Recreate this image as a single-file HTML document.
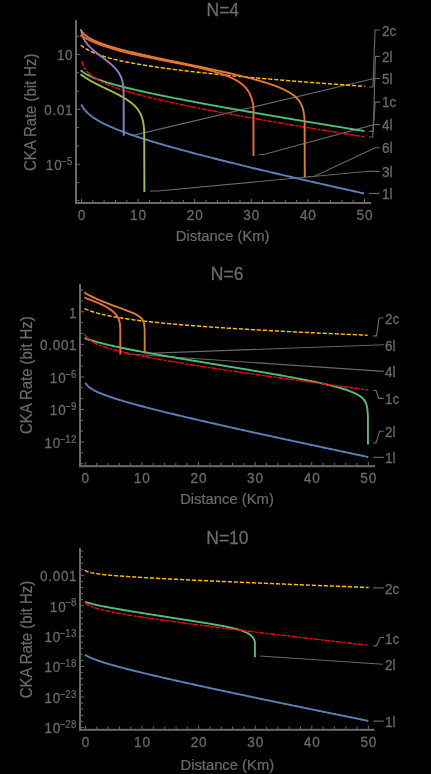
<!DOCTYPE html>
<html><head><meta charset="utf-8"><style>
html,body{margin:0;padding:0;background:#000;overflow:hidden;}
svg{display:block;will-change:transform;}
text{font-family:"Liberation Sans", sans-serif;fill:#6b6b6b;}
</style></head><body>
<svg width="431" height="774" viewBox="0 0 431 774">
<rect width="431" height="774" fill="#000"/>
<rect x="75.00" y="20.20" width="2" height="183.80" fill="#6b6b6b"/>
<rect x="75.00" y="202.00" width="296.00" height="2" fill="#6b6b6b"/>
<rect x="81.00" y="198.80" width="1" height="3.20" fill="#6b6b6b"/>
<rect x="92.32" y="199.80" width="1" height="2.20" fill="#6b6b6b"/>
<rect x="103.64" y="199.80" width="1" height="2.20" fill="#6b6b6b"/>
<rect x="114.96" y="199.80" width="1" height="2.20" fill="#6b6b6b"/>
<rect x="126.28" y="199.80" width="1" height="2.20" fill="#6b6b6b"/>
<rect x="137.60" y="198.80" width="1" height="3.20" fill="#6b6b6b"/>
<rect x="148.92" y="199.80" width="1" height="2.20" fill="#6b6b6b"/>
<rect x="160.24" y="199.80" width="1" height="2.20" fill="#6b6b6b"/>
<rect x="171.56" y="199.80" width="1" height="2.20" fill="#6b6b6b"/>
<rect x="182.88" y="199.80" width="1" height="2.20" fill="#6b6b6b"/>
<rect x="194.20" y="198.80" width="1" height="3.20" fill="#6b6b6b"/>
<rect x="205.52" y="199.80" width="1" height="2.20" fill="#6b6b6b"/>
<rect x="216.84" y="199.80" width="1" height="2.20" fill="#6b6b6b"/>
<rect x="228.16" y="199.80" width="1" height="2.20" fill="#6b6b6b"/>
<rect x="239.48" y="199.80" width="1" height="2.20" fill="#6b6b6b"/>
<rect x="250.80" y="198.80" width="1" height="3.20" fill="#6b6b6b"/>
<rect x="262.12" y="199.80" width="1" height="2.20" fill="#6b6b6b"/>
<rect x="273.44" y="199.80" width="1" height="2.20" fill="#6b6b6b"/>
<rect x="284.76" y="199.80" width="1" height="2.20" fill="#6b6b6b"/>
<rect x="296.08" y="199.80" width="1" height="2.20" fill="#6b6b6b"/>
<rect x="307.40" y="198.80" width="1" height="3.20" fill="#6b6b6b"/>
<rect x="318.72" y="199.80" width="1" height="2.20" fill="#6b6b6b"/>
<rect x="330.04" y="199.80" width="1" height="2.20" fill="#6b6b6b"/>
<rect x="341.36" y="199.80" width="1" height="2.20" fill="#6b6b6b"/>
<rect x="352.68" y="199.80" width="1" height="2.20" fill="#6b6b6b"/>
<rect x="364.00" y="198.80" width="1" height="3.20" fill="#6b6b6b"/>
<rect x="77.00" y="35.72" width="2.20" height="1" fill="#6b6b6b"/>
<rect x="77.00" y="54.00" width="3.20" height="1" fill="#6b6b6b"/>
<rect x="77.00" y="72.28" width="2.20" height="1" fill="#6b6b6b"/>
<rect x="77.00" y="90.56" width="2.20" height="1" fill="#6b6b6b"/>
<rect x="77.00" y="108.84" width="3.20" height="1" fill="#6b6b6b"/>
<rect x="77.00" y="127.12" width="2.20" height="1" fill="#6b6b6b"/>
<rect x="77.00" y="145.40" width="2.20" height="1" fill="#6b6b6b"/>
<rect x="77.00" y="163.68" width="3.20" height="1" fill="#6b6b6b"/>
<rect x="77.00" y="181.96" width="2.20" height="1" fill="#6b6b6b"/>
<rect x="77.00" y="200.24" width="2.20" height="1" fill="#6b6b6b"/>
<text transform="translate(81.95,220.30) scale(1,1.14)" font-size="13.6" text-anchor="middle" stroke="#6b6b6b" stroke-width="0.25" letter-spacing="0.9">0</text>
<text transform="translate(138.55,220.30) scale(1,1.14)" font-size="13.6" text-anchor="middle" stroke="#6b6b6b" stroke-width="0.25" letter-spacing="0.9">10</text>
<text transform="translate(195.15,220.30) scale(1,1.14)" font-size="13.6" text-anchor="middle" stroke="#6b6b6b" stroke-width="0.25" letter-spacing="0.9">20</text>
<text transform="translate(251.75,220.30) scale(1,1.14)" font-size="13.6" text-anchor="middle" stroke="#6b6b6b" stroke-width="0.25" letter-spacing="0.9">30</text>
<text transform="translate(308.35,220.30) scale(1,1.14)" font-size="13.6" text-anchor="middle" stroke="#6b6b6b" stroke-width="0.25" letter-spacing="0.9">40</text>
<text transform="translate(364.95,220.30) scale(1,1.14)" font-size="13.6" text-anchor="middle" stroke="#6b6b6b" stroke-width="0.25" letter-spacing="0.9">50</text>
<text transform="translate(73.30,60.30) scale(1,1.1)" font-size="13.5" text-anchor="end" stroke="#6b6b6b" stroke-width="0.25" letter-spacing="0.7">10</text>
<text transform="translate(73.30,115.14) scale(1,1.1)" font-size="13.5" text-anchor="end" stroke="#6b6b6b" stroke-width="0.25" letter-spacing="0.7">0.01</text>
<text transform="translate(72.60,164.88) scale(1,1.1)" font-size="9.6" text-anchor="end" stroke="#6b6b6b" stroke-width="0.2" letter-spacing="0.3">&#8722;5</text>
<text transform="translate(62.56,169.98) scale(1,1.1)" font-size="13.5" text-anchor="end" stroke="#6b6b6b" stroke-width="0.25" letter-spacing="0.9">10</text>
<text transform="translate(222.70,240.60) scale(1,1.03)" font-size="14.8" text-anchor="middle" stroke="#6b6b6b" stroke-width="0.2">Distance (Km)</text>
<text transform="translate(222.80,16.20) scale(1,1.05)" font-size="17.5" text-anchor="middle" stroke="#6b6b6b" stroke-width="0.25">N=4</text>
<text transform="translate(35.5,112.25) rotate(-90) scale(1,1.05)" font-size="14.9" text-anchor="middle" stroke="#6b6b6b" stroke-width="0.2">CKA Rate (bit Hz)</text>
<path d="M379.90,30.00 L375.00,30.00 L373.00,87.00 L369.00,87.00" fill="none" stroke="#686868" stroke-width="1.15"/>
<path d="M379.90,56.40 L375.40,56.40 L373.20,131.30 L369.00,131.30" fill="none" stroke="#686868" stroke-width="1.15"/>
<path d="M379.90,78.50 L374.00,78.50 L135.30,134.90 L130.10,135.10" fill="none" stroke="#686868" stroke-width="1.15"/>
<path d="M379.90,102.10 L375.20,102.10 L372.60,137.00 L369.00,137.00" fill="none" stroke="#686868" stroke-width="1.15"/>
<path d="M379.90,124.60 L374.00,124.60 L263.80,154.50 L259.10,154.50" fill="none" stroke="#686868" stroke-width="1.15"/>
<path d="M379.70,147.70 L375.20,147.70 L314.10,176.50 L307.90,176.50" fill="none" stroke="#686868" stroke-width="1.15"/>
<path d="M379.70,171.30 L368.70,171.30 L157.70,191.00 L150.00,191.00" fill="none" stroke="#686868" stroke-width="1.15"/>
<path d="M379.70,193.50 L369.10,193.50" fill="none" stroke="#686868" stroke-width="1.15"/>
<text transform="translate(382.00,36.00) scale(1,1.1)" font-size="13.5" text-anchor="start" stroke="#6b6b6b" stroke-width="0.25">2c</text>
<text transform="translate(382.00,61.70) scale(1,1.1)" font-size="13.5" text-anchor="start" stroke="#6b6b6b" stroke-width="0.25">2l</text>
<text transform="translate(382.00,84.00) scale(1,1.1)" font-size="13.5" text-anchor="start" stroke="#6b6b6b" stroke-width="0.25">5l</text>
<text transform="translate(382.00,107.00) scale(1,1.1)" font-size="13.5" text-anchor="start" stroke="#6b6b6b" stroke-width="0.25">1c</text>
<text transform="translate(382.00,129.80) scale(1,1.1)" font-size="13.5" text-anchor="start" stroke="#6b6b6b" stroke-width="0.25">4l</text>
<text transform="translate(382.00,153.10) scale(1,1.1)" font-size="13.5" text-anchor="start" stroke="#6b6b6b" stroke-width="0.25">6l</text>
<text transform="translate(382.00,177.10) scale(1,1.1)" font-size="13.5" text-anchor="start" stroke="#6b6b6b" stroke-width="0.25">3l</text>
<text transform="translate(382.00,198.90) scale(1,1.1)" font-size="13.5" text-anchor="start" stroke="#6b6b6b" stroke-width="0.25">1l</text>
<rect x="79.00" y="284.20" width="2" height="183.00" fill="#6b6b6b"/>
<rect x="79.00" y="465.20" width="296.00" height="2" fill="#6b6b6b"/>
<rect x="84.75" y="462.00" width="1" height="3.20" fill="#6b6b6b"/>
<rect x="96.07" y="463.00" width="1" height="2.20" fill="#6b6b6b"/>
<rect x="107.40" y="463.00" width="1" height="2.20" fill="#6b6b6b"/>
<rect x="118.72" y="463.00" width="1" height="2.20" fill="#6b6b6b"/>
<rect x="130.05" y="463.00" width="1" height="2.20" fill="#6b6b6b"/>
<rect x="141.37" y="462.00" width="1" height="3.20" fill="#6b6b6b"/>
<rect x="152.69" y="463.00" width="1" height="2.20" fill="#6b6b6b"/>
<rect x="164.02" y="463.00" width="1" height="2.20" fill="#6b6b6b"/>
<rect x="175.34" y="463.00" width="1" height="2.20" fill="#6b6b6b"/>
<rect x="186.67" y="463.00" width="1" height="2.20" fill="#6b6b6b"/>
<rect x="197.99" y="462.00" width="1" height="3.20" fill="#6b6b6b"/>
<rect x="209.31" y="463.00" width="1" height="2.20" fill="#6b6b6b"/>
<rect x="220.64" y="463.00" width="1" height="2.20" fill="#6b6b6b"/>
<rect x="231.96" y="463.00" width="1" height="2.20" fill="#6b6b6b"/>
<rect x="243.29" y="463.00" width="1" height="2.20" fill="#6b6b6b"/>
<rect x="254.61" y="462.00" width="1" height="3.20" fill="#6b6b6b"/>
<rect x="265.93" y="463.00" width="1" height="2.20" fill="#6b6b6b"/>
<rect x="277.26" y="463.00" width="1" height="2.20" fill="#6b6b6b"/>
<rect x="288.58" y="463.00" width="1" height="2.20" fill="#6b6b6b"/>
<rect x="299.91" y="463.00" width="1" height="2.20" fill="#6b6b6b"/>
<rect x="311.23" y="462.00" width="1" height="3.20" fill="#6b6b6b"/>
<rect x="322.55" y="463.00" width="1" height="2.20" fill="#6b6b6b"/>
<rect x="333.88" y="463.00" width="1" height="2.20" fill="#6b6b6b"/>
<rect x="345.20" y="463.00" width="1" height="2.20" fill="#6b6b6b"/>
<rect x="356.53" y="463.00" width="1" height="2.20" fill="#6b6b6b"/>
<rect x="367.85" y="462.00" width="1" height="3.20" fill="#6b6b6b"/>
<rect x="81.00" y="289.60" width="2.20" height="1" fill="#6b6b6b"/>
<rect x="81.00" y="300.45" width="2.20" height="1" fill="#6b6b6b"/>
<rect x="81.00" y="311.30" width="3.20" height="1" fill="#6b6b6b"/>
<rect x="81.00" y="322.15" width="2.20" height="1" fill="#6b6b6b"/>
<rect x="81.00" y="333.00" width="2.20" height="1" fill="#6b6b6b"/>
<rect x="81.00" y="343.85" width="3.20" height="1" fill="#6b6b6b"/>
<rect x="81.00" y="354.70" width="2.20" height="1" fill="#6b6b6b"/>
<rect x="81.00" y="365.55" width="2.20" height="1" fill="#6b6b6b"/>
<rect x="81.00" y="376.40" width="3.20" height="1" fill="#6b6b6b"/>
<rect x="81.00" y="387.25" width="2.20" height="1" fill="#6b6b6b"/>
<rect x="81.00" y="398.10" width="2.20" height="1" fill="#6b6b6b"/>
<rect x="81.00" y="408.95" width="3.20" height="1" fill="#6b6b6b"/>
<rect x="81.00" y="419.80" width="2.20" height="1" fill="#6b6b6b"/>
<rect x="81.00" y="430.65" width="2.20" height="1" fill="#6b6b6b"/>
<rect x="81.00" y="441.50" width="3.20" height="1" fill="#6b6b6b"/>
<rect x="81.00" y="452.35" width="2.20" height="1" fill="#6b6b6b"/>
<rect x="81.00" y="463.20" width="2.20" height="1" fill="#6b6b6b"/>
<text transform="translate(85.70,483.20) scale(1,1.14)" font-size="13.6" text-anchor="middle" stroke="#6b6b6b" stroke-width="0.25" letter-spacing="0.9">0</text>
<text transform="translate(142.32,483.20) scale(1,1.14)" font-size="13.6" text-anchor="middle" stroke="#6b6b6b" stroke-width="0.25" letter-spacing="0.9">10</text>
<text transform="translate(198.94,483.20) scale(1,1.14)" font-size="13.6" text-anchor="middle" stroke="#6b6b6b" stroke-width="0.25" letter-spacing="0.9">20</text>
<text transform="translate(255.56,483.20) scale(1,1.14)" font-size="13.6" text-anchor="middle" stroke="#6b6b6b" stroke-width="0.25" letter-spacing="0.9">30</text>
<text transform="translate(312.18,483.20) scale(1,1.14)" font-size="13.6" text-anchor="middle" stroke="#6b6b6b" stroke-width="0.25" letter-spacing="0.9">40</text>
<text transform="translate(368.80,483.20) scale(1,1.14)" font-size="13.6" text-anchor="middle" stroke="#6b6b6b" stroke-width="0.25" letter-spacing="0.9">50</text>
<text transform="translate(77.30,317.60) scale(1,1.1)" font-size="13.5" text-anchor="end" stroke="#6b6b6b" stroke-width="0.25" letter-spacing="0.7">1</text>
<text transform="translate(77.30,350.15) scale(1,1.1)" font-size="13.5" text-anchor="end" stroke="#6b6b6b" stroke-width="0.25" letter-spacing="0.7">0.001</text>
<text transform="translate(76.60,377.60) scale(1,1.1)" font-size="9.6" text-anchor="end" stroke="#6b6b6b" stroke-width="0.2" letter-spacing="0.3">&#8722;6</text>
<text transform="translate(66.56,382.70) scale(1,1.1)" font-size="13.5" text-anchor="end" stroke="#6b6b6b" stroke-width="0.25" letter-spacing="0.9">10</text>
<text transform="translate(76.60,410.15) scale(1,1.1)" font-size="9.6" text-anchor="end" stroke="#6b6b6b" stroke-width="0.2" letter-spacing="0.3">&#8722;9</text>
<text transform="translate(66.56,415.25) scale(1,1.1)" font-size="13.5" text-anchor="end" stroke="#6b6b6b" stroke-width="0.25" letter-spacing="0.9">10</text>
<text transform="translate(76.60,442.70) scale(1,1.1)" font-size="9.6" text-anchor="end" stroke="#6b6b6b" stroke-width="0.2" letter-spacing="0.3">&#8722;12</text>
<text transform="translate(61.22,447.80) scale(1,1.1)" font-size="13.5" text-anchor="end" stroke="#6b6b6b" stroke-width="0.25" letter-spacing="0.9">10</text>
<text transform="translate(227.00,504.00) scale(1,1.03)" font-size="14.8" text-anchor="middle" stroke="#6b6b6b" stroke-width="0.2">Distance (Km)</text>
<text transform="translate(227.10,279.60) scale(1,1.05)" font-size="17.5" text-anchor="middle" stroke="#6b6b6b" stroke-width="0.25">N=6</text>
<text transform="translate(31.7,375.15) rotate(-90) scale(1,1.05)" font-size="14.9" text-anchor="middle" stroke="#6b6b6b" stroke-width="0.2">CKA Rate (bit Hz)</text>
<path d="M383.70,318.00 L379.00,318.00 L376.50,335.80 L373.00,335.80" fill="none" stroke="#686868" stroke-width="1.15"/>
<path d="M383.80,344.70 L147.70,353.40" fill="none" stroke="#686868" stroke-width="1.15"/>
<path d="M383.80,371.40 L125.00,353.80" fill="none" stroke="#686868" stroke-width="1.15"/>
<path d="M383.80,398.40 L378.60,398.40 L376.00,390.30 L373.20,390.30" fill="none" stroke="#686868" stroke-width="1.15"/>
<path d="M383.80,431.20 L379.60,431.20 L376.00,443.00 L373.20,443.00" fill="none" stroke="#686868" stroke-width="1.15"/>
<path d="M384.00,457.30 L373.20,457.30" fill="none" stroke="#686868" stroke-width="1.15"/>
<text transform="translate(385.00,324.00) scale(1,1.1)" font-size="13.5" text-anchor="start" stroke="#6b6b6b" stroke-width="0.25">2c</text>
<text transform="translate(385.00,350.70) scale(1,1.1)" font-size="13.5" text-anchor="start" stroke="#6b6b6b" stroke-width="0.25">6l</text>
<text transform="translate(385.00,377.40) scale(1,1.1)" font-size="13.5" text-anchor="start" stroke="#6b6b6b" stroke-width="0.25">4l</text>
<text transform="translate(385.00,404.00) scale(1,1.1)" font-size="13.5" text-anchor="start" stroke="#6b6b6b" stroke-width="0.25">1c</text>
<text transform="translate(385.00,437.40) scale(1,1.1)" font-size="13.5" text-anchor="start" stroke="#6b6b6b" stroke-width="0.25">2l</text>
<text transform="translate(385.00,463.20) scale(1,1.1)" font-size="13.5" text-anchor="start" stroke="#6b6b6b" stroke-width="0.25">1l</text>
<rect x="79.00" y="548.20" width="2" height="182.60" fill="#6b6b6b"/>
<rect x="79.00" y="728.80" width="295.50" height="2" fill="#6b6b6b"/>
<rect x="85.00" y="725.60" width="1" height="3.20" fill="#6b6b6b"/>
<rect x="96.32" y="726.60" width="1" height="2.20" fill="#6b6b6b"/>
<rect x="107.63" y="726.60" width="1" height="2.20" fill="#6b6b6b"/>
<rect x="118.95" y="726.60" width="1" height="2.20" fill="#6b6b6b"/>
<rect x="130.26" y="726.60" width="1" height="2.20" fill="#6b6b6b"/>
<rect x="141.58" y="725.60" width="1" height="3.20" fill="#6b6b6b"/>
<rect x="152.90" y="726.60" width="1" height="2.20" fill="#6b6b6b"/>
<rect x="164.21" y="726.60" width="1" height="2.20" fill="#6b6b6b"/>
<rect x="175.53" y="726.60" width="1" height="2.20" fill="#6b6b6b"/>
<rect x="186.84" y="726.60" width="1" height="2.20" fill="#6b6b6b"/>
<rect x="198.16" y="725.60" width="1" height="3.20" fill="#6b6b6b"/>
<rect x="209.48" y="726.60" width="1" height="2.20" fill="#6b6b6b"/>
<rect x="220.79" y="726.60" width="1" height="2.20" fill="#6b6b6b"/>
<rect x="232.11" y="726.60" width="1" height="2.20" fill="#6b6b6b"/>
<rect x="243.42" y="726.60" width="1" height="2.20" fill="#6b6b6b"/>
<rect x="254.74" y="725.60" width="1" height="3.20" fill="#6b6b6b"/>
<rect x="266.06" y="726.60" width="1" height="2.20" fill="#6b6b6b"/>
<rect x="277.37" y="726.60" width="1" height="2.20" fill="#6b6b6b"/>
<rect x="288.69" y="726.60" width="1" height="2.20" fill="#6b6b6b"/>
<rect x="300.00" y="726.60" width="1" height="2.20" fill="#6b6b6b"/>
<rect x="311.32" y="725.60" width="1" height="3.20" fill="#6b6b6b"/>
<rect x="322.64" y="726.60" width="1" height="2.20" fill="#6b6b6b"/>
<rect x="333.95" y="726.60" width="1" height="2.20" fill="#6b6b6b"/>
<rect x="345.27" y="726.60" width="1" height="2.20" fill="#6b6b6b"/>
<rect x="356.58" y="726.60" width="1" height="2.20" fill="#6b6b6b"/>
<rect x="367.90" y="725.60" width="1" height="3.20" fill="#6b6b6b"/>
<rect x="81.00" y="550.47" width="2.20" height="1" fill="#6b6b6b"/>
<rect x="81.00" y="556.55" width="2.20" height="1" fill="#6b6b6b"/>
<rect x="81.00" y="562.63" width="2.20" height="1" fill="#6b6b6b"/>
<rect x="81.00" y="568.72" width="2.20" height="1" fill="#6b6b6b"/>
<rect x="81.00" y="574.80" width="3.20" height="1" fill="#6b6b6b"/>
<rect x="81.00" y="580.89" width="2.20" height="1" fill="#6b6b6b"/>
<rect x="81.00" y="586.97" width="2.20" height="1" fill="#6b6b6b"/>
<rect x="81.00" y="593.05" width="2.20" height="1" fill="#6b6b6b"/>
<rect x="81.00" y="599.14" width="2.20" height="1" fill="#6b6b6b"/>
<rect x="81.00" y="605.22" width="3.20" height="1" fill="#6b6b6b"/>
<rect x="81.00" y="611.31" width="2.20" height="1" fill="#6b6b6b"/>
<rect x="81.00" y="617.39" width="2.20" height="1" fill="#6b6b6b"/>
<rect x="81.00" y="623.47" width="2.20" height="1" fill="#6b6b6b"/>
<rect x="81.00" y="629.56" width="2.20" height="1" fill="#6b6b6b"/>
<rect x="81.00" y="635.64" width="3.20" height="1" fill="#6b6b6b"/>
<rect x="81.00" y="641.73" width="2.20" height="1" fill="#6b6b6b"/>
<rect x="81.00" y="647.81" width="2.20" height="1" fill="#6b6b6b"/>
<rect x="81.00" y="653.89" width="2.20" height="1" fill="#6b6b6b"/>
<rect x="81.00" y="659.98" width="2.20" height="1" fill="#6b6b6b"/>
<rect x="81.00" y="666.06" width="3.20" height="1" fill="#6b6b6b"/>
<rect x="81.00" y="672.15" width="2.20" height="1" fill="#6b6b6b"/>
<rect x="81.00" y="678.23" width="2.20" height="1" fill="#6b6b6b"/>
<rect x="81.00" y="684.31" width="2.20" height="1" fill="#6b6b6b"/>
<rect x="81.00" y="690.40" width="2.20" height="1" fill="#6b6b6b"/>
<rect x="81.00" y="696.48" width="3.20" height="1" fill="#6b6b6b"/>
<rect x="81.00" y="702.57" width="2.20" height="1" fill="#6b6b6b"/>
<rect x="81.00" y="708.65" width="2.20" height="1" fill="#6b6b6b"/>
<rect x="81.00" y="714.73" width="2.20" height="1" fill="#6b6b6b"/>
<rect x="81.00" y="720.82" width="2.20" height="1" fill="#6b6b6b"/>
<rect x="81.00" y="726.90" width="3.20" height="1" fill="#6b6b6b"/>
<text transform="translate(85.95,747.20) scale(1,1.14)" font-size="13.6" text-anchor="middle" stroke="#6b6b6b" stroke-width="0.25" letter-spacing="0.9">0</text>
<text transform="translate(142.53,747.20) scale(1,1.14)" font-size="13.6" text-anchor="middle" stroke="#6b6b6b" stroke-width="0.25" letter-spacing="0.9">10</text>
<text transform="translate(199.11,747.20) scale(1,1.14)" font-size="13.6" text-anchor="middle" stroke="#6b6b6b" stroke-width="0.25" letter-spacing="0.9">20</text>
<text transform="translate(255.69,747.20) scale(1,1.14)" font-size="13.6" text-anchor="middle" stroke="#6b6b6b" stroke-width="0.25" letter-spacing="0.9">30</text>
<text transform="translate(312.27,747.20) scale(1,1.14)" font-size="13.6" text-anchor="middle" stroke="#6b6b6b" stroke-width="0.25" letter-spacing="0.9">40</text>
<text transform="translate(368.85,747.20) scale(1,1.14)" font-size="13.6" text-anchor="middle" stroke="#6b6b6b" stroke-width="0.25" letter-spacing="0.9">50</text>
<text transform="translate(77.30,581.10) scale(1,1.1)" font-size="13.5" text-anchor="end" stroke="#6b6b6b" stroke-width="0.25" letter-spacing="0.7">0.001</text>
<text transform="translate(76.60,606.42) scale(1,1.1)" font-size="9.6" text-anchor="end" stroke="#6b6b6b" stroke-width="0.2" letter-spacing="0.3">&#8722;8</text>
<text transform="translate(66.56,611.52) scale(1,1.1)" font-size="13.5" text-anchor="end" stroke="#6b6b6b" stroke-width="0.25" letter-spacing="0.9">10</text>
<text transform="translate(76.60,636.84) scale(1,1.1)" font-size="9.6" text-anchor="end" stroke="#6b6b6b" stroke-width="0.2" letter-spacing="0.3">&#8722;13</text>
<text transform="translate(61.22,641.94) scale(1,1.1)" font-size="13.5" text-anchor="end" stroke="#6b6b6b" stroke-width="0.25" letter-spacing="0.9">10</text>
<text transform="translate(76.60,667.26) scale(1,1.1)" font-size="9.6" text-anchor="end" stroke="#6b6b6b" stroke-width="0.2" letter-spacing="0.3">&#8722;18</text>
<text transform="translate(61.22,672.36) scale(1,1.1)" font-size="13.5" text-anchor="end" stroke="#6b6b6b" stroke-width="0.25" letter-spacing="0.9">10</text>
<text transform="translate(76.60,697.68) scale(1,1.1)" font-size="9.6" text-anchor="end" stroke="#6b6b6b" stroke-width="0.2" letter-spacing="0.3">&#8722;23</text>
<text transform="translate(61.22,702.78) scale(1,1.1)" font-size="13.5" text-anchor="end" stroke="#6b6b6b" stroke-width="0.25" letter-spacing="0.9">10</text>
<text transform="translate(76.60,728.10) scale(1,1.1)" font-size="9.6" text-anchor="end" stroke="#6b6b6b" stroke-width="0.2" letter-spacing="0.3">&#8722;28</text>
<text transform="translate(61.22,733.20) scale(1,1.1)" font-size="13.5" text-anchor="end" stroke="#6b6b6b" stroke-width="0.25" letter-spacing="0.9">10</text>
<text transform="translate(227.30,769.80) scale(1,1.03)" font-size="14.8" text-anchor="middle" stroke="#6b6b6b" stroke-width="0.2">Distance (Km)</text>
<text transform="translate(227.40,543.60) scale(1,1.05)" font-size="17.5" text-anchor="middle" stroke="#6b6b6b" stroke-width="0.25">N=10</text>
<text transform="translate(31.7,639.5) rotate(-90) scale(1,1.05)" font-size="14.9" text-anchor="middle" stroke="#6b6b6b" stroke-width="0.2">CKA Rate (bit Hz)</text>
<path d="M384.00,587.90 L373.20,587.90" fill="none" stroke="#686868" stroke-width="1.15"/>
<path d="M384.00,637.50 L380.20,637.50 L376.50,645.80 L373.20,645.80" fill="none" stroke="#686868" stroke-width="1.15"/>
<path d="M382.90,664.20 L259.90,656.00" fill="none" stroke="#686868" stroke-width="1.15"/>
<path d="M383.70,721.10 L373.30,721.10" fill="none" stroke="#686868" stroke-width="1.15"/>
<text transform="translate(385.00,594.00) scale(1,1.1)" font-size="13.5" text-anchor="start" stroke="#6b6b6b" stroke-width="0.25">2c</text>
<text transform="translate(385.00,644.10) scale(1,1.1)" font-size="13.5" text-anchor="start" stroke="#6b6b6b" stroke-width="0.25">1c</text>
<text transform="translate(385.00,670.10) scale(1,1.1)" font-size="13.5" text-anchor="start" stroke="#6b6b6b" stroke-width="0.25">2l</text>
<text transform="translate(385.00,726.90) scale(1,1.1)" font-size="13.5" text-anchor="start" stroke="#6b6b6b" stroke-width="0.25">1l</text>
<path d="M81.20,104.47 L82.20,106.28 L83.20,107.83 L84.20,109.19 L85.20,110.41 L86.20,111.52 L87.20,112.53 L88.20,113.48 L89.20,114.36 L90.20,115.19 L91.20,115.97 L92.20,116.72 L93.20,117.43 L94.20,118.11 L95.20,118.77 L96.19,119.40 L97.19,120.01 L98.19,120.60 L99.19,121.17 L100.19,121.72 L101.19,122.27 L102.19,122.79 L103.19,123.31 L104.19,123.81 L105.19,124.30 L106.19,124.78 L107.19,125.25 L108.19,125.71 L109.19,126.17 L110.19,126.61 L111.19,127.05 L112.19,127.48 L113.19,127.91 L114.19,128.32 L115.19,128.74 L116.19,129.14 L117.19,129.55 L118.19,129.94 L119.19,130.33 L120.19,130.72 L121.19,131.10 L122.19,131.48 L123.19,131.86 L124.18,132.23 L125.18,132.60 L126.18,132.96 L127.18,133.32 L128.18,133.68 L129.18,134.03 L130.18,134.38 L131.18,134.73 L132.18,135.07 L133.18,135.41 L134.18,135.75 L135.18,136.09 L136.18,136.42 L137.18,136.76 L138.18,137.09 L139.18,137.41 L140.18,137.74 L141.18,138.06 L142.18,138.38 L143.18,138.70 L144.18,139.02 L145.18,139.34 L146.18,139.65 L147.18,139.96 L148.18,140.27 L149.18,140.58 L150.18,140.89 L151.18,141.20 L152.17,141.50 L153.17,141.80 L154.17,142.10 L155.17,142.40 L156.17,142.70 L157.17,143.00 L158.17,143.30 L159.17,143.59 L160.17,143.88 L161.17,144.18 L162.17,144.47 L163.17,144.76 L164.17,145.05 L165.17,145.33 L166.17,145.62 L167.17,145.91 L168.17,146.19 L169.17,146.47 L170.17,146.76 L171.17,147.04 L172.17,147.32 L173.17,147.60 L174.17,147.88 L175.17,148.16 L176.17,148.43 L177.17,148.71 L178.17,148.99 L179.17,149.26 L180.17,149.53 L181.16,149.81 L182.16,150.08 L183.16,150.35 L184.16,150.62 L185.16,150.89 L186.16,151.16 L187.16,151.43 L188.16,151.70 L189.16,151.96 L190.16,152.23 L191.16,152.50 L192.16,152.76 L193.16,153.03 L194.16,153.29 L195.16,153.55 L196.16,153.82 L197.16,154.08 L198.16,154.34 L199.16,154.60 L200.16,154.86 L201.16,155.12 L202.16,155.38 L203.16,155.64 L204.16,155.90 L205.16,156.16 L206.16,156.42 L207.16,156.67 L208.16,156.93 L209.15,157.19 L210.15,157.44 L211.15,157.70 L212.15,157.95 L213.15,158.20 L214.15,158.46 L215.15,158.71 L216.15,158.96 L217.15,159.22 L218.15,159.47 L219.15,159.72 L220.15,159.97 L221.15,160.22 L222.15,160.47 L223.15,160.72 L224.15,160.97 L225.15,161.22 L226.15,161.47 L227.15,161.72 L228.15,161.96 L229.15,162.21 L230.15,162.46 L231.15,162.71 L232.15,162.95 L233.15,163.20 L234.15,163.44 L235.15,163.69 L236.15,163.93 L237.14,164.18 L238.14,164.42 L239.14,164.67 L240.14,164.91 L241.14,165.16 L242.14,165.40 L243.14,165.64 L244.14,165.88 L245.14,166.13 L246.14,166.37 L247.14,166.61 L248.14,166.85 L249.14,167.09 L250.14,167.33 L251.14,167.57 L252.14,167.81 L253.14,168.05 L254.14,168.29 L255.14,168.53 L256.14,168.77 L257.14,169.01 L258.14,169.25 L259.14,169.49 L260.14,169.73 L261.14,169.97 L262.14,170.20 L263.14,170.44 L264.14,170.68 L265.13,170.91 L266.13,171.15 L267.13,171.39 L268.13,171.62 L269.13,171.86 L270.13,172.10 L271.13,172.33 L272.13,172.57 L273.13,172.80 L274.13,173.04 L275.13,173.27 L276.13,173.51 L277.13,173.74 L278.13,173.97 L279.13,174.21 L280.13,174.44 L281.13,174.68 L282.13,174.91 L283.13,175.14 L284.13,175.38 L285.13,175.61 L286.13,175.84 L287.13,176.07 L288.13,176.30 L289.13,176.54 L290.13,176.77 L291.13,177.00 L292.13,177.23 L293.13,177.46 L294.12,177.69 L295.12,177.92 L296.12,178.15 L297.12,178.39 L298.12,178.62 L299.12,178.85 L300.12,179.08 L301.12,179.31 L302.12,179.54 L303.12,179.76 L304.12,179.99 L305.12,180.22 L306.12,180.45 L307.12,180.68 L308.12,180.91 L309.12,181.14 L310.12,181.37 L311.12,181.59 L312.12,181.82 L313.12,182.05 L314.12,182.28 L315.12,182.51 L316.12,182.73 L317.12,182.96 L318.12,183.19 L319.12,183.41 L320.12,183.64 L321.12,183.87 L322.11,184.09 L323.11,184.32 L324.11,184.55 L325.11,184.77 L326.11,185.00 L327.11,185.23 L328.11,185.45 L329.11,185.68 L330.11,185.90 L331.11,186.13 L332.11,186.35 L333.11,186.58 L334.11,186.80 L335.11,187.03 L336.11,187.25 L337.11,187.48 L338.11,187.70 L339.11,187.93 L340.11,188.15 L341.11,188.37 L342.11,188.60 L343.11,188.82 L344.11,189.05 L345.11,189.27 L346.11,189.49 L347.11,189.72 L348.11,189.94 L349.11,190.16 L350.10,190.39 L351.10,190.61 L352.10,190.83 L353.10,191.05 L354.10,191.28 L355.10,191.50 L356.10,191.72 L357.10,191.94 L358.10,192.17 L359.10,192.39 L360.10,192.61 L361.10,192.83 L362.10,193.05 L363.10,193.28 L364.10,193.50" fill="none" stroke="#5e81b5" stroke-width="1.9" stroke-linejoin="round"/>
<path d="M80.60,70.22 L81.60,71.07 L82.60,71.84 L83.60,72.54 L84.60,73.19 L85.60,73.80 L86.60,74.38 L87.60,74.92 L88.59,75.43 L89.59,75.92 L90.59,76.39 L91.59,76.85 L92.59,77.28 L93.59,77.70 L94.59,78.11 L95.59,78.51 L96.59,78.89 L97.59,79.27 L98.59,79.63 L99.59,79.99 L100.59,80.34 L101.59,80.68 L102.58,81.01 L103.58,81.34 L104.58,81.66 L105.58,81.98 L106.58,82.29 L107.58,82.59 L108.58,82.89 L109.58,83.19 L110.58,83.48 L111.58,83.77 L112.58,84.06 L113.58,84.34 L114.58,84.62 L115.58,84.89 L116.57,85.16 L117.57,85.43 L118.57,85.70 L119.57,85.96 L120.57,86.22 L121.57,86.48 L122.57,86.73 L123.57,86.99 L124.57,87.24 L125.57,87.49 L126.57,87.74 L127.57,87.98 L128.57,88.22 L129.57,88.47 L130.56,88.71 L131.56,88.94 L132.56,89.18 L133.56,89.42 L134.56,89.65 L135.56,89.88 L136.56,90.11 L137.56,90.34 L138.56,90.57 L139.56,90.80 L140.56,91.02 L141.56,91.24 L142.56,91.47 L143.56,91.69 L144.55,91.91 L145.55,92.13 L146.55,92.35 L147.55,92.57 L148.55,92.78 L149.55,93.00 L150.55,93.21 L151.55,93.43 L152.55,93.64 L153.55,93.85 L154.55,94.06 L155.55,94.27 L156.55,94.48 L157.55,94.69 L158.55,94.90 L159.54,95.10 L160.54,95.31 L161.54,95.52 L162.54,95.72 L163.54,95.92 L164.54,96.13 L165.54,96.33 L166.54,96.53 L167.54,96.74 L168.54,96.94 L169.54,97.14 L170.54,97.34 L171.54,97.54 L172.54,97.73 L173.53,97.93 L174.53,98.13 L175.53,98.33 L176.53,98.52 L177.53,98.72 L178.53,98.91 L179.53,99.11 L180.53,99.30 L181.53,99.50 L182.53,99.69 L183.53,99.88 L184.53,100.08 L185.53,100.27 L186.53,100.46 L187.52,100.65 L188.52,100.84 L189.52,101.03 L190.52,101.22 L191.52,101.41 L192.52,101.60 L193.52,101.79 L194.52,101.98 L195.52,102.17 L196.52,102.35 L197.52,102.54 L198.52,102.73 L199.52,102.91 L200.52,103.10 L201.51,103.29 L202.51,103.47 L203.51,103.66 L204.51,103.84 L205.51,104.03 L206.51,104.21 L207.51,104.39 L208.51,104.58 L209.51,104.76 L210.51,104.94 L211.51,105.13 L212.51,105.31 L213.51,105.49 L214.51,105.67 L215.50,105.86 L216.50,106.04 L217.50,106.22 L218.50,106.40 L219.50,106.58 L220.50,106.76 L221.50,106.94 L222.50,107.12 L223.50,107.30 L224.50,107.48 L225.50,107.66 L226.50,107.84 L227.50,108.02 L228.50,108.19 L229.50,108.37 L230.49,108.55 L231.49,108.73 L232.49,108.90 L233.49,109.08 L234.49,109.26 L235.49,109.44 L236.49,109.61 L237.49,109.79 L238.49,109.97 L239.49,110.14 L240.49,110.32 L241.49,110.49 L242.49,110.67 L243.49,110.84 L244.48,111.02 L245.48,111.19 L246.48,111.37 L247.48,111.54 L248.48,111.72 L249.48,111.89 L250.48,112.06 L251.48,112.24 L252.48,112.41 L253.48,112.59 L254.48,112.76 L255.48,112.93 L256.48,113.10 L257.48,113.28 L258.47,113.45 L259.47,113.62 L260.47,113.79 L261.47,113.97 L262.47,114.14 L263.47,114.31 L264.47,114.48 L265.47,114.65 L266.47,114.83 L267.47,115.00 L268.47,115.17 L269.47,115.34 L270.47,115.51 L271.47,115.68 L272.46,115.85 L273.46,116.02 L274.46,116.19 L275.46,116.36 L276.46,116.53 L277.46,116.70 L278.46,116.87 L279.46,117.04 L280.46,117.21 L281.46,117.38 L282.46,117.55 L283.46,117.72 L284.46,117.89 L285.46,118.05 L286.45,118.22 L287.45,118.39 L288.45,118.56 L289.45,118.73 L290.45,118.90 L291.45,119.06 L292.45,119.23 L293.45,119.40 L294.45,119.57 L295.45,119.74 L296.45,119.90 L297.45,120.07 L298.45,120.24 L299.45,120.40 L300.45,120.57 L301.44,120.74 L302.44,120.91 L303.44,121.07 L304.44,121.24 L305.44,121.41 L306.44,121.57 L307.44,121.74 L308.44,121.90 L309.44,122.07 L310.44,122.24 L311.44,122.40 L312.44,122.57 L313.44,122.73 L314.44,122.90 L315.43,123.07 L316.43,123.23 L317.43,123.40 L318.43,123.56 L319.43,123.73 L320.43,123.89 L321.43,124.06 L322.43,124.22 L323.43,124.39 L324.43,124.55 L325.43,124.72 L326.43,124.88 L327.43,125.04 L328.43,125.21 L329.42,125.37 L330.42,125.54 L331.42,125.70 L332.42,125.87 L333.42,126.03 L334.42,126.19 L335.42,126.36 L336.42,126.52 L337.42,126.68 L338.42,126.85 L339.42,127.01 L340.42,127.18 L341.42,127.34 L342.42,127.50 L343.41,127.67 L344.41,127.83 L345.41,127.99 L346.41,128.15 L347.41,128.32 L348.41,128.48 L349.41,128.64 L350.41,128.81 L351.41,128.97 L352.41,129.13 L353.41,129.29 L354.41,129.46 L355.41,129.62 L356.41,129.78 L357.40,129.94 L358.40,130.10 L359.40,130.27 L360.40,130.43 L361.40,130.59 L362.40,130.75 L363.40,130.91 L364.40,131.08" fill="none" stroke="#52bd79" stroke-width="1.9" stroke-linejoin="round"/>
<path d="M81.80,60.97 L82.80,64.03 L83.80,66.31 L84.80,68.13 L85.79,69.66 L86.79,70.99 L87.79,72.15 L88.79,73.20 L89.79,74.16 L90.79,75.04 L91.79,75.85 L92.78,76.62 L93.78,77.33 L94.78,78.01 L95.78,78.65 L96.78,79.26 L97.78,79.85 L98.78,80.41 L99.77,80.94 L100.77,81.46 L101.77,81.96 L102.77,82.45 L103.77,82.92 L104.77,83.37 L105.77,83.82 L106.76,84.25 L107.76,84.67 L108.76,85.08 L109.76,85.48 L110.76,85.87 L111.76,86.26 L112.76,86.63 L113.75,87.00 L114.75,87.36 L115.75,87.72 L116.75,88.07 L117.75,88.41 L118.75,88.75 L119.75,89.09 L120.74,89.41 L121.74,89.74 L122.74,90.06 L123.74,90.37 L124.74,90.68 L125.74,90.99 L126.74,91.29 L127.73,91.59 L128.73,91.89 L129.73,92.18 L130.73,92.47 L131.73,92.75 L132.73,93.04 L133.73,93.32 L134.73,93.60 L135.72,93.87 L136.72,94.14 L137.72,94.41 L138.72,94.68 L139.72,94.95 L140.72,95.21 L141.72,95.47 L142.71,95.73 L143.71,95.99 L144.71,96.24 L145.71,96.50 L146.71,96.75 L147.71,97.00 L148.71,97.24 L149.70,97.49 L150.70,97.73 L151.70,97.98 L152.70,98.22 L153.70,98.46 L154.70,98.70 L155.70,98.93 L156.69,99.17 L157.69,99.40 L158.69,99.64 L159.69,99.87 L160.69,100.10 L161.69,100.33 L162.69,100.55 L163.68,100.78 L164.68,101.01 L165.68,101.23 L166.68,101.46 L167.68,101.68 L168.68,101.90 L169.68,102.12 L170.67,102.34 L171.67,102.56 L172.67,102.77 L173.67,102.99 L174.67,103.21 L175.67,103.42 L176.67,103.64 L177.66,103.85 L178.66,104.06 L179.66,104.27 L180.66,104.48 L181.66,104.69 L182.66,104.90 L183.66,105.11 L184.65,105.32 L185.65,105.52 L186.65,105.73 L187.65,105.93 L188.65,106.14 L189.65,106.34 L190.65,106.55 L191.64,106.75 L192.64,106.95 L193.64,107.15 L194.64,107.35 L195.64,107.55 L196.64,107.75 L197.64,107.95 L198.63,108.15 L199.63,108.35 L200.63,108.55 L201.63,108.74 L202.63,108.94 L203.63,109.13 L204.63,109.33 L205.62,109.52 L206.62,109.72 L207.62,109.91 L208.62,110.11 L209.62,110.30 L210.62,110.49 L211.62,110.68 L212.61,110.87 L213.61,111.06 L214.61,111.25 L215.61,111.44 L216.61,111.63 L217.61,111.82 L218.61,112.01 L219.60,112.20 L220.60,112.39 L221.60,112.57 L222.60,112.76 L223.60,112.95 L224.60,113.13 L225.60,113.32 L226.60,113.51 L227.59,113.69 L228.59,113.88 L229.59,114.06 L230.59,114.24 L231.59,114.43 L232.59,114.61 L233.59,114.79 L234.58,114.98 L235.58,115.16 L236.58,115.34 L237.58,115.52 L238.58,115.70 L239.58,115.88 L240.58,116.07 L241.57,116.25 L242.57,116.43 L243.57,116.61 L244.57,116.79 L245.57,116.96 L246.57,117.14 L247.57,117.32 L248.56,117.50 L249.56,117.68 L250.56,117.86 L251.56,118.03 L252.56,118.21 L253.56,118.39 L254.56,118.56 L255.55,118.74 L256.55,118.92 L257.55,119.09 L258.55,119.27 L259.55,119.44 L260.55,119.62 L261.55,119.79 L262.54,119.97 L263.54,120.14 L264.54,120.32 L265.54,120.49 L266.54,120.66 L267.54,120.84 L268.54,121.01 L269.53,121.18 L270.53,121.36 L271.53,121.53 L272.53,121.70 L273.53,121.87 L274.53,122.05 L275.53,122.22 L276.52,122.39 L277.52,122.56 L278.52,122.73 L279.52,122.90 L280.52,123.07 L281.52,123.24 L282.52,123.41 L283.51,123.58 L284.51,123.75 L285.51,123.92 L286.51,124.09 L287.51,124.26 L288.51,124.43 L289.51,124.60 L290.50,124.77 L291.50,124.94 L292.50,125.11 L293.50,125.28 L294.50,125.44 L295.50,125.61 L296.50,125.78 L297.49,125.95 L298.49,126.11 L299.49,126.28 L300.49,126.45 L301.49,126.62 L302.49,126.78 L303.49,126.95 L304.48,127.12 L305.48,127.28 L306.48,127.45 L307.48,127.61 L308.48,127.78 L309.48,127.94 L310.48,128.11 L311.47,128.28 L312.47,128.44 L313.47,128.61 L314.47,128.77 L315.47,128.94 L316.47,129.10 L317.47,129.26 L318.47,129.43 L319.46,129.59 L320.46,129.76 L321.46,129.92 L322.46,130.08 L323.46,130.25 L324.46,130.41 L325.46,130.58 L326.45,130.74 L327.45,130.90 L328.45,131.06 L329.45,131.23 L330.45,131.39 L331.45,131.55 L332.45,131.71 L333.44,131.88 L334.44,132.04 L335.44,132.20 L336.44,132.36 L337.44,132.53 L338.44,132.69 L339.44,132.85 L340.43,133.01 L341.43,133.17 L342.43,133.33 L343.43,133.49 L344.43,133.65 L345.43,133.82 L346.43,133.98 L347.42,134.14 L348.42,134.30 L349.42,134.46 L350.42,134.62 L351.42,134.78 L352.42,134.94 L353.42,135.10 L354.41,135.26 L355.41,135.42 L356.41,135.58 L357.41,135.74 L358.41,135.90 L359.41,136.06 L360.41,136.22 L361.40,136.37 L362.40,136.53 L363.40,136.69 L364.40,136.85" fill="none" stroke="#ff0000" stroke-width="1.45" stroke-dasharray="5.6 1.4 2.8 1.3" stroke-linejoin="round"/>
<path d="M80.80,44.93 L81.80,45.79 L82.79,46.58 L83.79,47.31 L84.79,48.00 L85.78,48.64 L86.78,49.24 L87.78,49.82 L88.77,50.36 L89.77,50.88 L90.76,51.37 L91.76,51.84 L92.76,52.29 L93.75,52.73 L94.75,53.15 L95.75,53.55 L96.74,53.94 L97.74,54.31 L98.74,54.68 L99.73,55.03 L100.73,55.37 L101.73,55.71 L102.72,56.03 L103.72,56.35 L104.72,56.65 L105.71,56.95 L106.71,57.25 L107.71,57.53 L108.70,57.81 L109.70,58.08 L110.69,58.35 L111.69,58.61 L112.69,58.87 L113.68,59.12 L114.68,59.37 L115.68,59.61 L116.67,59.85 L117.67,60.08 L118.67,60.31 L119.66,60.53 L120.66,60.75 L121.66,60.97 L122.65,61.19 L123.65,61.40 L124.65,61.61 L125.64,61.81 L126.64,62.01 L127.64,62.21 L128.63,62.41 L129.63,62.60 L130.62,62.79 L131.62,62.98 L132.62,63.17 L133.61,63.35 L134.61,63.53 L135.61,63.71 L136.60,63.89 L137.60,64.07 L138.60,64.24 L139.59,64.41 L140.59,64.58 L141.59,64.75 L142.58,64.91 L143.58,65.08 L144.58,65.24 L145.57,65.40 L146.57,65.56 L147.56,65.72 L148.56,65.87 L149.56,66.03 L150.55,66.18 L151.55,66.33 L152.55,66.48 L153.54,66.63 L154.54,66.78 L155.54,66.92 L156.53,67.07 L157.53,67.21 L158.53,67.36 L159.52,67.50 L160.52,67.64 L161.52,67.78 L162.51,67.91 L163.51,68.05 L164.51,68.19 L165.50,68.32 L166.50,68.46 L167.49,68.59 L168.49,68.72 L169.49,68.85 L170.48,68.98 L171.48,69.11 L172.48,69.24 L173.47,69.37 L174.47,69.49 L175.47,69.62 L176.46,69.74 L177.46,69.87 L178.46,69.99 L179.45,70.11 L180.45,70.24 L181.45,70.36 L182.44,70.48 L183.44,70.60 L184.44,70.72 L185.43,70.83 L186.43,70.95 L187.42,71.07 L188.42,71.18 L189.42,71.30 L190.41,71.41 L191.41,71.53 L192.41,71.64 L193.40,71.75 L194.40,71.87 L195.40,71.98 L196.39,72.09 L197.39,72.20 L198.39,72.31 L199.38,72.42 L200.38,72.53 L201.38,72.64 L202.37,72.75 L203.37,72.85 L204.36,72.96 L205.36,73.07 L206.36,73.17 L207.35,73.28 L208.35,73.38 L209.35,73.49 L210.34,73.59 L211.34,73.69 L212.34,73.80 L213.33,73.90 L214.33,74.00 L215.33,74.10 L216.32,74.20 L217.32,74.30 L218.32,74.41 L219.31,74.51 L220.31,74.60 L221.31,74.70 L222.30,74.80 L223.30,74.90 L224.29,75.00 L225.29,75.10 L226.29,75.19 L227.28,75.29 L228.28,75.39 L229.28,75.48 L230.27,75.58 L231.27,75.67 L232.27,75.77 L233.26,75.86 L234.26,75.96 L235.26,76.05 L236.25,76.15 L237.25,76.24 L238.25,76.33 L239.24,76.42 L240.24,76.52 L241.24,76.61 L242.23,76.70 L243.23,76.79 L244.22,76.88 L245.22,76.97 L246.22,77.06 L247.21,77.15 L248.21,77.24 L249.21,77.33 L250.20,77.42 L251.20,77.51 L252.20,77.60 L253.19,77.69 L254.19,77.78 L255.19,77.87 L256.18,77.95 L257.18,78.04 L258.18,78.13 L259.17,78.21 L260.17,78.30 L261.16,78.39 L262.16,78.47 L263.16,78.56 L264.15,78.64 L265.15,78.73 L266.15,78.82 L267.14,78.90 L268.14,78.99 L269.14,79.07 L270.13,79.15 L271.13,79.24 L272.13,79.32 L273.12,79.40 L274.12,79.49 L275.12,79.57 L276.11,79.65 L277.11,79.74 L278.11,79.82 L279.10,79.90 L280.10,79.98 L281.09,80.07 L282.09,80.15 L283.09,80.23 L284.08,80.31 L285.08,80.39 L286.08,80.47 L287.07,80.55 L288.07,80.63 L289.07,80.71 L290.06,80.79 L291.06,80.87 L292.06,80.95 L293.05,81.03 L294.05,81.11 L295.05,81.19 L296.04,81.27 L297.04,81.35 L298.04,81.43 L299.03,81.50 L300.03,81.58 L301.02,81.66 L302.02,81.74 L303.02,81.82 L304.01,81.89 L305.01,81.97 L306.01,82.05 L307.00,82.13 L308.00,82.20 L309.00,82.28 L309.99,82.36 L310.99,82.43 L311.99,82.51 L312.98,82.58 L313.98,82.66 L314.98,82.74 L315.97,82.81 L316.97,82.89 L317.96,82.96 L318.96,83.04 L319.96,83.11 L320.95,83.19 L321.95,83.26 L322.95,83.34 L323.94,83.41 L324.94,83.49 L325.94,83.56 L326.93,83.63 L327.93,83.71 L328.93,83.78 L329.92,83.86 L330.92,83.93 L331.92,84.00 L332.91,84.08 L333.91,84.15 L334.91,84.22 L335.90,84.29 L336.90,84.37 L337.89,84.44 L338.89,84.51 L339.89,84.58 L340.88,84.66 L341.88,84.73 L342.88,84.80 L343.87,84.87 L344.87,84.94 L345.87,85.01 L346.86,85.09 L347.86,85.16 L348.86,85.23 L349.85,85.30 L350.85,85.37 L351.85,85.44 L352.84,85.51 L353.84,85.58 L354.84,85.65 L355.83,85.72 L356.83,85.79 L357.82,85.86 L358.82,85.93 L359.82,86.00 L360.81,86.07 L361.81,86.14 L362.81,86.21 L363.80,86.28 L364.80,86.35" fill="none" stroke="#ffbf00" stroke-width="1.45" stroke-dasharray="4.2 1.8" stroke-linejoin="round"/>
<path d="M80.60,74.15 L81.24,74.67 L81.87,75.16 L82.50,75.64 L83.13,76.09 L83.75,76.54 L84.37,76.96 L84.98,77.38 L85.59,77.78 L86.19,78.17 L86.79,78.55 L87.39,78.92 L87.98,79.28 L88.57,79.63 L89.15,79.97 L89.73,80.31 L90.31,80.64 L90.88,80.96 L91.45,81.28 L92.01,81.59 L92.57,81.89 L93.13,82.19 L93.68,82.49 L94.23,82.78 L94.77,83.06 L95.31,83.34 L95.85,83.62 L96.38,83.89 L97.17,84.29 L97.95,84.69 L98.73,85.07 L99.49,85.45 L100.25,85.82 L101.00,86.19 L101.73,86.55 L102.47,86.91 L103.19,87.26 L103.90,87.60 L104.61,87.94 L105.31,88.28 L106.00,88.61 L106.68,88.94 L107.35,89.26 L108.02,89.58 L108.67,89.90 L109.32,90.21 L109.96,90.53 L110.60,90.83 L111.22,91.14 L111.84,91.44 L112.45,91.74 L113.06,92.04 L113.65,92.34 L114.24,92.63 L114.82,92.92 L115.39,93.21 L115.96,93.50 L116.51,93.79 L117.06,94.07 L117.61,94.36 L118.14,94.64 L118.67,94.92 L119.20,95.20 L119.88,95.57 L120.55,95.94 L121.21,96.30 L121.86,96.67 L122.50,97.03 L123.12,97.39 L123.73,97.75 L124.33,98.11 L124.92,98.47 L125.50,98.83 L126.06,99.18 L126.62,99.54 L127.16,99.89 L127.69,100.25 L128.21,100.60 L128.72,100.95 L129.22,101.31 L129.71,101.66 L130.19,102.01 L130.66,102.37 L131.11,102.72 L131.56,103.08 L132.11,103.52 L132.64,103.96 L133.15,104.41 L133.65,104.86 L134.13,105.31 L134.60,105.76 L135.06,106.21 L135.50,106.67 L135.93,107.13 L136.34,107.59 L136.74,108.06 L137.13,108.52 L137.50,109.00 L137.87,109.47 L138.21,109.96 L138.55,110.44 L138.87,110.93 L139.19,111.43 L139.49,111.93 L139.78,112.44 L140.12,113.06 L140.44,113.69 L140.74,114.33 L141.03,114.98 L141.31,115.64 L141.57,116.32 L141.82,117.01 L142.05,117.72 L142.27,118.45 L142.48,119.19 L142.67,119.95 L142.83,120.61 L142.97,121.27 L143.11,121.96 L143.24,122.66 L143.36,123.38 L143.48,124.13 L143.59,124.89 L143.69,125.68 L143.79,126.49 L143.88,127.33 L143.96,128.20 L144.04,129.10 L144.09,129.85 L144.15,130.62 L144.20,131.42 L144.40,191.90" fill="none" stroke="#9dc13c" stroke-width="1.9" stroke-linejoin="round"/>
<path d="M81.50,31.96 L81.71,32.89 L81.92,33.72 L82.13,34.46 L82.34,35.14 L82.55,35.76 L82.96,36.86 L83.37,37.84 L83.78,38.71 L84.18,39.50 L84.59,40.22 L84.99,40.89 L85.38,41.51 L85.78,42.10 L86.17,42.65 L86.56,43.18 L86.94,43.67 L87.33,44.15 L87.71,44.61 L88.09,45.05 L88.65,45.67 L89.20,46.27 L89.75,46.84 L90.30,47.38 L90.84,47.91 L91.37,48.41 L91.90,48.89 L92.42,49.36 L92.93,49.82 L93.44,50.26 L93.95,50.69 L94.45,51.11 L94.94,51.52 L95.43,51.92 L95.91,52.31 L96.38,52.70 L96.85,53.07 L97.32,53.44 L97.78,53.80 L98.23,54.15 L98.83,54.62 L99.42,55.07 L100.00,55.52 L100.57,55.95 L101.13,56.38 L101.68,56.80 L102.22,57.21 L102.75,57.62 L103.28,58.02 L103.79,58.42 L104.30,58.80 L104.80,59.19 L105.29,59.57 L105.77,59.94 L106.24,60.31 L106.70,60.68 L107.16,61.04 L107.60,61.40 L108.15,61.84 L108.69,62.27 L109.21,62.71 L109.72,63.13 L110.22,63.56 L110.70,63.97 L111.18,64.39 L111.64,64.80 L112.09,65.21 L112.53,65.61 L112.96,66.02 L113.37,66.42 L113.78,66.81 L114.25,67.29 L114.71,67.76 L115.15,68.23 L115.58,68.70 L115.99,69.16 L116.39,69.63 L116.77,70.09 L117.14,70.56 L117.50,71.02 L117.84,71.49 L118.23,72.03 L118.60,72.57 L118.95,73.12 L119.28,73.67 L119.60,74.23 L119.90,74.78 L120.18,75.35 L120.46,75.92 L120.73,76.50 L120.99,77.08 L121.23,77.68 L121.46,78.28 L121.68,78.90 L121.88,79.53 L122.08,80.17 L122.26,80.83 L122.43,81.50 L122.59,82.20 L122.73,82.91 L122.87,83.65 L123.00,84.41 L123.12,85.20 L123.23,86.03 L123.32,86.76 L123.40,87.52 L123.47,88.31 L123.54,89.14 L123.61,90.00 L123.66,90.75 L123.70,135.70" fill="none" stroke="#8e80c4" stroke-width="1.9" stroke-linejoin="round"/>
<path d="M80.40,35.11 L81.27,35.66 L82.14,36.19 L83.00,36.70 L83.86,37.20 L84.72,37.68 L85.57,38.15 L86.43,38.60 L87.27,39.04 L88.12,39.47 L88.96,39.88 L89.81,40.29 L90.64,40.68 L91.48,41.07 L92.31,41.45 L93.14,41.81 L93.97,42.17 L94.79,42.52 L95.61,42.86 L96.43,43.19 L97.24,43.52 L98.06,43.84 L98.87,44.15 L99.67,44.46 L100.48,44.76 L101.28,45.06 L102.08,45.34 L102.87,45.63 L103.66,45.90 L104.45,46.18 L105.24,46.44 L106.03,46.71 L106.81,46.97 L107.59,47.22 L108.36,47.47 L109.14,47.71 L109.91,47.95 L110.67,48.19 L111.44,48.42 L112.20,48.65 L112.96,48.88 L113.72,49.10 L114.47,49.32 L115.23,49.54 L115.97,49.75 L116.72,49.96 L117.46,50.17 L118.21,50.37 L118.94,50.57 L119.68,50.77 L120.41,50.97 L121.14,51.16 L121.87,51.35 L122.60,51.54 L123.32,51.73 L124.04,51.91 L124.75,52.09 L125.47,52.27 L126.18,52.45 L126.89,52.62 L127.60,52.79 L128.30,52.97 L129.00,53.13 L129.70,53.30 L130.40,53.47 L131.09,53.63 L131.78,53.79 L132.47,53.95 L133.15,54.11 L133.84,54.27 L134.52,54.42 L135.20,54.58 L135.87,54.73 L136.54,54.88 L137.21,55.03 L137.88,55.18 L138.55,55.33 L139.21,55.47 L139.87,55.61 L140.53,55.76 L141.84,56.04 L143.13,56.32 L144.42,56.59 L145.70,56.86 L146.97,57.12 L148.22,57.38 L149.47,57.64 L150.71,57.89 L151.94,58.14 L153.16,58.39 L154.37,58.63 L155.56,58.87 L156.75,59.11 L157.93,59.34 L159.10,59.58 L160.26,59.81 L161.42,60.03 L162.56,60.26 L163.69,60.48 L164.81,60.70 L165.93,60.92 L167.03,61.13 L168.13,61.35 L169.21,61.56 L170.29,61.77 L171.36,61.98 L172.42,62.19 L173.47,62.40 L174.51,62.60 L175.54,62.81 L176.56,63.01 L177.58,63.21 L178.58,63.41 L179.58,63.61 L180.56,63.81 L181.54,64.00 L182.51,64.20 L183.47,64.40 L184.43,64.59 L185.37,64.78 L186.31,64.98 L187.23,65.17 L188.15,65.36 L189.06,65.55 L189.96,65.74 L190.86,65.93 L191.74,66.12 L192.62,66.31 L193.49,66.50 L194.35,66.69 L195.20,66.87 L196.05,67.06 L196.88,67.25 L197.71,67.43 L198.53,67.62 L199.34,67.81 L200.15,67.99 L200.94,68.18 L201.73,68.37 L202.51,68.55 L203.28,68.74 L204.05,68.92 L204.81,69.11 L205.56,69.30 L206.30,69.48 L207.03,69.67 L207.76,69.85 L208.48,70.04 L209.19,70.23 L209.90,70.41 L210.59,70.60 L211.28,70.79 L211.97,70.97 L212.64,71.16 L213.31,71.35 L213.97,71.54 L214.63,71.73 L215.27,71.92 L215.91,72.10 L216.54,72.29 L217.17,72.48 L217.79,72.68 L218.40,72.87 L219.31,73.15 L220.20,73.44 L221.07,73.73 L221.93,74.02 L222.77,74.32 L223.60,74.61 L224.42,74.91 L225.22,75.20 L226.00,75.50 L226.77,75.80 L227.53,76.11 L228.28,76.41 L229.01,76.72 L229.72,77.03 L230.42,77.34 L231.11,77.65 L231.79,77.97 L232.45,78.28 L233.10,78.60 L233.73,78.92 L234.36,79.25 L234.97,79.58 L235.56,79.91 L236.15,80.24 L236.72,80.58 L237.28,80.92 L237.83,81.26 L238.37,81.60 L238.89,81.95 L239.41,82.30 L239.91,82.66 L240.41,83.02 L240.90,83.38 L241.37,83.75 L241.84,84.12 L242.30,84.49 L242.74,84.87 L243.17,85.25 L243.60,85.64 L244.01,86.03 L244.55,86.56 L245.07,87.09 L245.57,87.64 L246.05,88.20 L246.51,88.76 L246.96,89.34 L247.40,89.92 L247.81,90.52 L248.21,91.13 L248.60,91.74 L248.97,92.38 L249.33,93.02 L249.67,93.68 L250.00,94.35 L250.31,95.04 L250.61,95.74 L250.90,96.46 L251.17,97.19 L251.43,97.95 L251.68,98.72 L251.92,99.51 L252.14,100.33 L252.36,101.16 L252.56,102.02 L252.71,102.68 L252.85,103.36 L252.98,104.05 L253.11,104.76 L253.23,105.48 L253.35,106.22 L253.46,106.98 L253.50,155.90" fill="none" stroke="#ee6a3a" stroke-width="1.9" stroke-linejoin="round"/>
<path d="M80.40,29.38 L81.52,31.11 L82.64,32.50 L83.75,33.69 L84.86,34.71 L85.97,35.62 L87.07,36.45 L88.17,37.20 L89.26,37.89 L90.35,38.53 L91.44,39.14 L92.52,39.70 L93.60,40.24 L94.68,40.75 L95.75,41.23 L96.82,41.70 L97.89,42.15 L98.95,42.58 L100.01,42.99 L101.06,43.39 L102.11,43.78 L103.16,44.15 L104.20,44.52 L105.24,44.87 L106.28,45.22 L107.31,45.56 L108.34,45.89 L109.36,46.21 L110.39,46.52 L111.40,46.83 L112.42,47.14 L113.43,47.43 L114.44,47.72 L115.44,48.01 L116.44,48.29 L117.44,48.57 L118.43,48.84 L119.42,49.11 L120.41,49.37 L121.39,49.63 L122.37,49.89 L123.35,50.14 L124.32,50.39 L125.29,50.63 L126.25,50.88 L127.22,51.12 L128.17,51.36 L129.13,51.59 L130.08,51.82 L131.03,52.05 L131.97,52.28 L132.91,52.50 L133.85,52.73 L134.79,52.95 L135.72,53.16 L136.65,53.38 L137.57,53.59 L138.49,53.81 L139.41,54.02 L140.32,54.22 L141.23,54.43 L142.14,54.63 L143.04,54.84 L143.94,55.04 L144.84,55.24 L145.74,55.44 L146.63,55.63 L147.51,55.83 L148.40,56.02 L149.28,56.22 L150.15,56.41 L151.03,56.60 L151.90,56.79 L152.77,56.97 L153.63,57.16 L154.49,57.34 L155.35,57.53 L156.20,57.71 L157.05,57.89 L157.90,58.07 L158.74,58.25 L159.59,58.43 L160.42,58.61 L161.26,58.78 L162.09,58.96 L162.92,59.13 L163.74,59.31 L164.56,59.48 L165.38,59.65 L166.20,59.82 L167.01,59.99 L167.82,60.16 L168.63,60.33 L169.43,60.49 L170.23,60.66 L171.02,60.83 L171.82,60.99 L172.61,61.15 L173.39,61.32 L174.18,61.48 L174.96,61.64 L175.74,61.80 L176.51,61.96 L177.28,62.12 L178.05,62.28 L178.81,62.44 L179.58,62.60 L180.34,62.75 L181.09,62.91 L181.84,63.06 L182.59,63.22 L183.34,63.37 L184.08,63.53 L184.82,63.68 L185.56,63.83 L186.30,63.98 L187.03,64.13 L187.76,64.28 L188.48,64.43 L189.20,64.58 L189.92,64.73 L190.64,64.88 L191.35,65.03 L192.06,65.17 L192.77,65.32 L193.47,65.47 L194.18,65.61 L194.87,65.76 L195.57,65.90 L196.26,66.05 L196.95,66.19 L197.64,66.33 L198.32,66.47 L199.00,66.62 L199.68,66.76 L200.36,66.90 L201.03,67.04 L201.70,67.18 L202.36,67.32 L203.03,67.46 L204.35,67.74 L205.65,68.01 L206.95,68.29 L208.23,68.56 L209.51,68.83 L210.77,69.10 L212.02,69.36 L213.26,69.63 L214.48,69.90 L215.70,70.16 L216.91,70.42 L218.10,70.68 L219.29,70.94 L220.46,71.20 L221.62,71.45 L222.77,71.71 L223.91,71.96 L225.04,72.21 L226.16,72.47 L227.27,72.72 L228.37,72.96 L229.46,73.21 L230.54,73.46 L231.60,73.70 L232.66,73.95 L233.71,74.19 L234.74,74.43 L235.77,74.68 L236.79,74.92 L237.79,75.16 L238.79,75.39 L239.78,75.63 L240.75,75.87 L241.72,76.10 L242.68,76.34 L243.62,76.57 L244.56,76.81 L245.49,77.04 L246.40,77.27 L247.31,77.50 L248.21,77.73 L249.10,77.96 L249.98,78.19 L250.85,78.42 L251.71,78.65 L252.57,78.87 L253.41,79.10 L254.24,79.33 L255.07,79.55 L255.88,79.78 L256.69,80.00 L257.49,80.22 L258.27,80.45 L259.05,80.67 L259.82,80.89 L260.59,81.11 L261.34,81.33 L262.08,81.55 L262.82,81.77 L263.55,81.99 L264.27,82.21 L264.98,82.43 L265.68,82.65 L266.37,82.87 L267.06,83.09 L267.74,83.30 L268.41,83.52 L269.07,83.74 L269.72,83.95 L270.37,84.17 L271.00,84.39 L271.63,84.60 L272.25,84.82 L272.86,85.04 L273.47,85.25 L274.07,85.47 L274.66,85.68 L275.53,86.01 L276.38,86.33 L277.22,86.65 L278.04,86.98 L278.84,87.30 L279.63,87.63 L280.40,87.95 L281.15,88.27 L281.89,88.60 L282.61,88.93 L283.32,89.25 L284.01,89.58 L284.69,89.91 L285.35,90.24 L286.00,90.57 L286.63,90.90 L287.25,91.23 L287.85,91.56 L288.44,91.90 L289.01,92.23 L289.57,92.57 L290.12,92.91 L290.66,93.25 L291.18,93.59 L291.68,93.94 L292.19,94.28 L292.68,94.63 L293.16,94.98 L293.62,95.34 L294.08,95.69 L294.52,96.05 L295.09,96.53 L295.64,97.02 L296.17,97.52 L296.67,98.02 L297.16,98.53 L297.63,99.04 L298.08,99.56 L298.52,100.09 L298.93,100.63 L299.32,101.18 L299.70,101.73 L300.07,102.30 L300.41,102.88 L300.74,103.47 L301.05,104.07 L301.35,104.68 L301.63,105.31 L301.90,105.96 L302.16,106.62 L302.40,107.29 L302.63,107.99 L302.84,108.70 L303.04,109.44 L303.23,110.19 L303.41,110.98 L303.58,111.78 L303.73,112.62 L303.88,113.49 L304.01,114.39 L304.14,115.32 L304.23,116.05 L304.31,116.80 L304.39,117.58 L304.46,118.38 L304.53,119.22 L304.60,120.08 L304.80,177.20" fill="none" stroke="#dc7f2a" stroke-width="1.9" stroke-linejoin="round"/>
<path d="M85.20,382.80 L86.20,384.22 L87.19,385.35 L88.19,386.31 L89.19,387.14 L90.18,387.89 L91.18,388.57 L92.18,389.19 L93.17,389.78 L94.17,390.33 L95.17,390.86 L96.17,391.36 L97.16,391.83 L98.16,392.29 L99.16,392.73 L100.15,393.16 L101.15,393.58 L102.15,393.98 L103.14,394.38 L104.14,394.76 L105.14,395.14 L106.13,395.51 L107.13,395.87 L108.13,396.22 L109.12,396.57 L110.12,396.92 L111.12,397.25 L112.11,397.59 L113.11,397.92 L114.11,398.24 L115.10,398.56 L116.10,398.88 L117.10,399.19 L118.10,399.50 L119.09,399.81 L120.09,400.11 L121.09,400.41 L122.08,400.71 L123.08,401.01 L124.08,401.30 L125.07,401.59 L126.07,401.88 L127.07,402.17 L128.06,402.45 L129.06,402.74 L130.06,403.02 L131.05,403.30 L132.05,403.57 L133.05,403.85 L134.04,404.12 L135.04,404.40 L136.04,404.67 L137.04,404.94 L138.03,405.21 L139.03,405.47 L140.03,405.74 L141.02,406.00 L142.02,406.27 L143.02,406.53 L144.01,406.79 L145.01,407.05 L146.01,407.31 L147.00,407.57 L148.00,407.83 L149.00,408.08 L149.99,408.34 L150.99,408.60 L151.99,408.85 L152.98,409.10 L153.98,409.35 L154.98,409.61 L155.98,409.86 L156.97,410.11 L157.97,410.36 L158.97,410.60 L159.96,410.85 L160.96,411.10 L161.96,411.35 L162.95,411.59 L163.95,411.84 L164.95,412.08 L165.94,412.33 L166.94,412.57 L167.94,412.81 L168.93,413.06 L169.93,413.30 L170.93,413.54 L171.92,413.78 L172.92,414.02 L173.92,414.26 L174.91,414.50 L175.91,414.74 L176.91,414.98 L177.91,415.22 L178.90,415.45 L179.90,415.69 L180.90,415.93 L181.89,416.16 L182.89,416.40 L183.89,416.63 L184.88,416.87 L185.88,417.10 L186.88,417.34 L187.87,417.57 L188.87,417.81 L189.87,418.04 L190.86,418.27 L191.86,418.51 L192.86,418.74 L193.85,418.97 L194.85,419.20 L195.85,419.43 L196.85,419.66 L197.84,419.89 L198.84,420.13 L199.84,420.36 L200.83,420.59 L201.83,420.81 L202.83,421.04 L203.82,421.27 L204.82,421.50 L205.82,421.73 L206.81,421.96 L207.81,422.19 L208.81,422.41 L209.80,422.64 L210.80,422.87 L211.80,423.10 L212.79,423.32 L213.79,423.55 L214.79,423.77 L215.78,424.00 L216.78,424.23 L217.78,424.45 L218.78,424.68 L219.77,424.90 L220.77,425.13 L221.77,425.35 L222.76,425.58 L223.76,425.80 L224.76,426.02 L225.75,426.25 L226.75,426.47 L227.75,426.70 L228.74,426.92 L229.74,427.14 L230.74,427.37 L231.73,427.59 L232.73,427.81 L233.73,428.03 L234.72,428.26 L235.72,428.48 L236.72,428.70 L237.72,428.92 L238.71,429.14 L239.71,429.36 L240.71,429.58 L241.70,429.81 L242.70,430.03 L243.70,430.25 L244.69,430.47 L245.69,430.69 L246.69,430.91 L247.68,431.13 L248.68,431.35 L249.68,431.57 L250.67,431.79 L251.67,432.01 L252.67,432.23 L253.66,432.45 L254.66,432.67 L255.66,432.89 L256.65,433.10 L257.65,433.32 L258.65,433.54 L259.65,433.76 L260.64,433.98 L261.64,434.20 L262.64,434.41 L263.63,434.63 L264.63,434.85 L265.63,435.07 L266.62,435.29 L267.62,435.50 L268.62,435.72 L269.61,435.94 L270.61,436.15 L271.61,436.37 L272.60,436.59 L273.60,436.81 L274.60,437.02 L275.59,437.24 L276.59,437.46 L277.59,437.67 L278.59,437.89 L279.58,438.10 L280.58,438.32 L281.58,438.54 L282.57,438.75 L283.57,438.97 L284.57,439.18 L285.56,439.40 L286.56,439.61 L287.56,439.83 L288.55,440.05 L289.55,440.26 L290.55,440.48 L291.54,440.69 L292.54,440.91 L293.54,441.12 L294.53,441.34 L295.53,441.55 L296.53,441.76 L297.52,441.98 L298.52,442.19 L299.52,442.41 L300.52,442.62 L301.51,442.84 L302.51,443.05 L303.51,443.26 L304.50,443.48 L305.50,443.69 L306.50,443.91 L307.49,444.12 L308.49,444.33 L309.49,444.55 L310.48,444.76 L311.48,444.97 L312.48,445.19 L313.47,445.40 L314.47,445.61 L315.47,445.83 L316.46,446.04 L317.46,446.25 L318.46,446.46 L319.46,446.68 L320.45,446.89 L321.45,447.10 L322.45,447.31 L323.44,447.53 L324.44,447.74 L325.44,447.95 L326.43,448.16 L327.43,448.38 L328.43,448.59 L329.42,448.80 L330.42,449.01 L331.42,449.22 L332.41,449.44 L333.41,449.65 L334.41,449.86 L335.40,450.07 L336.40,450.28 L337.40,450.49 L338.40,450.71 L339.39,450.92 L340.39,451.13 L341.39,451.34 L342.38,451.55 L343.38,451.76 L344.38,451.97 L345.37,452.18 L346.37,452.39 L347.37,452.61 L348.36,452.82 L349.36,453.03 L350.36,453.24 L351.35,453.45 L352.35,453.66 L353.35,453.87 L354.34,454.08 L355.34,454.29 L356.34,454.50 L357.33,454.71 L358.33,454.92 L359.33,455.13 L360.33,455.34 L361.32,455.55 L362.32,455.76 L363.32,455.97 L364.31,456.18 L365.31,456.39 L366.31,456.60 L367.30,456.81 L368.30,457.02" fill="none" stroke="#5e81b5" stroke-width="1.9" stroke-linejoin="round"/>
<path d="M84.60,338.02 L86.01,338.55 L87.43,339.06 L88.83,339.53 L90.23,339.99 L91.63,340.43 L93.02,340.86 L94.41,341.27 L95.79,341.66 L97.17,342.05 L98.54,342.42 L99.91,342.79 L101.27,343.14 L102.63,343.49 L103.98,343.83 L105.33,344.16 L106.68,344.48 L108.02,344.80 L109.35,345.11 L110.68,345.42 L112.01,345.72 L113.33,346.02 L114.65,346.31 L115.96,346.60 L117.27,346.88 L118.57,347.16 L119.87,347.43 L121.17,347.70 L122.46,347.97 L123.74,348.24 L125.03,348.50 L126.30,348.76 L127.57,349.01 L128.84,349.26 L130.11,349.51 L131.36,349.76 L132.62,350.00 L133.87,350.24 L135.11,350.48 L136.35,350.72 L137.59,350.95 L138.82,351.19 L140.05,351.42 L141.27,351.65 L142.49,351.87 L143.71,352.10 L144.92,352.32 L146.12,352.54 L147.33,352.76 L148.52,352.98 L149.72,353.19 L150.90,353.41 L152.09,353.62 L153.27,353.83 L154.44,354.04 L155.61,354.25 L156.78,354.45 L157.94,354.66 L159.10,354.86 L160.26,355.07 L161.41,355.27 L162.55,355.47 L163.69,355.67 L164.83,355.86 L165.96,356.06 L167.09,356.25 L168.21,356.45 L169.33,356.64 L170.45,356.83 L171.56,357.02 L172.67,357.21 L173.77,357.40 L174.87,357.59 L175.97,357.77 L177.06,357.96 L178.14,358.14 L179.23,358.32 L180.31,358.50 L181.38,358.69 L182.45,358.87 L183.52,359.05 L184.58,359.22 L185.64,359.40 L186.69,359.58 L187.74,359.75 L188.79,359.93 L189.83,360.10 L190.86,360.27 L191.90,360.45 L192.93,360.62 L193.95,360.79 L194.97,360.96 L195.99,361.13 L197.01,361.29 L198.01,361.46 L199.02,361.63 L200.02,361.79 L201.02,361.96 L202.01,362.12 L203.00,362.29 L203.99,362.45 L204.97,362.61 L205.95,362.77 L206.92,362.93 L207.89,363.09 L208.86,363.25 L209.82,363.41 L210.78,363.57 L211.73,363.73 L212.68,363.88 L213.63,364.04 L214.57,364.19 L215.51,364.35 L216.44,364.50 L217.37,364.66 L218.30,364.81 L219.23,364.96 L220.15,365.11 L221.06,365.26 L221.97,365.41 L222.88,365.56 L223.79,365.71 L224.69,365.86 L225.58,366.01 L226.48,366.16 L227.37,366.30 L228.25,366.45 L229.13,366.59 L230.01,366.74 L230.89,366.88 L231.76,367.03 L232.62,367.17 L233.49,367.31 L234.35,367.46 L235.20,367.60 L236.05,367.74 L236.90,367.88 L237.75,368.02 L238.59,368.16 L239.43,368.30 L240.26,368.44 L241.09,368.58 L241.92,368.71 L242.74,368.85 L243.56,368.99 L244.38,369.12 L245.19,369.26 L246.00,369.39 L246.80,369.53 L247.61,369.66 L248.40,369.80 L249.20,369.93 L249.99,370.06 L250.78,370.20 L251.56,370.33 L252.34,370.46 L253.12,370.59 L253.89,370.72 L254.66,370.85 L255.43,370.98 L256.19,371.11 L256.95,371.24 L257.71,371.37 L258.46,371.49 L259.21,371.62 L259.95,371.75 L260.70,371.87 L261.44,372.00 L262.17,372.13 L262.90,372.25 L263.63,372.38 L264.36,372.50 L265.08,372.63 L265.80,372.75 L266.51,372.87 L267.22,372.99 L267.93,373.12 L268.64,373.24 L269.34,373.36 L270.04,373.48 L270.73,373.60 L271.43,373.72 L272.11,373.84 L272.80,373.96 L273.48,374.08 L274.84,374.32 L276.18,374.56 L277.50,374.79 L278.82,375.02 L280.12,375.25 L281.41,375.48 L282.69,375.71 L283.95,375.94 L285.20,376.17 L286.44,376.39 L287.67,376.61 L288.88,376.83 L290.08,377.06 L291.27,377.27 L292.45,377.49 L293.62,377.71 L294.77,377.92 L295.91,378.14 L297.04,378.35 L298.16,378.56 L299.26,378.77 L300.35,378.98 L301.43,379.19 L302.50,379.40 L303.56,379.60 L304.61,379.81 L305.65,380.01 L306.67,380.22 L307.68,380.42 L308.68,380.62 L309.67,380.82 L310.65,381.02 L311.62,381.21 L312.58,381.41 L313.52,381.61 L314.46,381.80 L315.38,381.99 L316.29,382.19 L317.20,382.38 L318.09,382.57 L318.97,382.76 L319.84,382.95 L320.70,383.14 L321.55,383.33 L322.39,383.51 L323.22,383.70 L324.04,383.88 L324.85,384.07 L325.65,384.25 L326.44,384.43 L327.22,384.62 L327.98,384.80 L328.74,384.98 L329.49,385.16 L330.23,385.34 L330.96,385.52 L331.68,385.70 L332.39,385.87 L333.10,386.05 L333.79,386.23 L334.47,386.40 L335.14,386.58 L335.81,386.75 L336.46,386.93 L337.11,387.10 L337.75,387.28 L338.38,387.45 L339.30,387.71 L340.21,387.97 L341.09,388.22 L341.96,388.48 L342.81,388.74 L343.64,388.99 L344.45,389.25 L345.24,389.50 L346.01,389.75 L346.77,390.01 L347.51,390.26 L348.23,390.51 L348.93,390.77 L349.62,391.02 L350.28,391.27 L350.94,391.52 L351.57,391.78 L352.19,392.03 L352.79,392.28 L353.38,392.54 L353.95,392.79 L354.51,393.05 L355.22,393.39 L355.91,393.73 L356.58,394.08 L357.23,394.43 L357.85,394.78 L358.45,395.13 L359.02,395.48 L359.57,395.84 L360.10,396.21 L360.60,396.57 L361.08,396.94 L361.54,397.32 L361.98,397.70 L362.40,398.08 L362.90,398.58 L363.36,399.08 L363.79,399.59 L364.20,400.12 L364.58,400.66 L364.93,401.22 L365.26,401.79 L365.56,402.38 L365.84,403.00 L366.10,403.63 L366.33,404.30 L366.55,404.99 L366.74,405.71 L366.92,406.47 L367.08,407.27 L367.22,408.12 L367.32,408.84 L367.42,409.59 L367.50,410.38 L367.58,411.23 L367.65,412.12 L367.71,413.08 L367.75,413.84 L367.78,414.65 L367.82,415.51 L367.85,416.42 L367.87,417.41 L367.90,418.46 L368.00,444.60" fill="none" stroke="#52bd79" stroke-width="1.9" stroke-linejoin="round"/>
<path d="M84.60,334.29 L85.60,335.98 L86.60,337.28 L87.59,338.35 L88.59,339.26 L89.59,340.05 L90.59,340.76 L91.59,341.41 L92.58,342.00 L93.58,342.55 L94.58,343.07 L95.58,343.55 L96.57,344.01 L97.57,344.45 L98.57,344.86 L99.57,345.26 L100.57,345.64 L101.56,346.01 L102.56,346.36 L103.56,346.71 L104.56,347.04 L105.56,347.37 L106.55,347.68 L107.55,347.99 L108.55,348.29 L109.55,348.59 L110.55,348.87 L111.54,349.16 L112.54,349.43 L113.54,349.70 L114.54,349.97 L115.53,350.23 L116.53,350.49 L117.53,350.74 L118.53,350.99 L119.53,351.24 L120.52,351.48 L121.52,351.72 L122.52,351.95 L123.52,352.19 L124.52,352.42 L125.51,352.65 L126.51,352.87 L127.51,353.09 L128.51,353.31 L129.50,353.53 L130.50,353.75 L131.50,353.96 L132.50,354.18 L133.50,354.39 L134.49,354.60 L135.49,354.80 L136.49,355.01 L137.49,355.21 L138.49,355.41 L139.48,355.61 L140.48,355.81 L141.48,356.01 L142.48,356.21 L143.48,356.40 L144.47,356.59 L145.47,356.79 L146.47,356.98 L147.47,357.17 L148.46,357.36 L149.46,357.55 L150.46,357.73 L151.46,357.92 L152.46,358.10 L153.45,358.29 L154.45,358.47 L155.45,358.65 L156.45,358.83 L157.45,359.01 L158.44,359.19 L159.44,359.37 L160.44,359.55 L161.44,359.73 L162.44,359.90 L163.43,360.08 L164.43,360.25 L165.43,360.43 L166.43,360.60 L167.42,360.77 L168.42,360.95 L169.42,361.12 L170.42,361.29 L171.42,361.46 L172.41,361.63 L173.41,361.80 L174.41,361.96 L175.41,362.13 L176.41,362.30 L177.40,362.47 L178.40,362.63 L179.40,362.80 L180.40,362.96 L181.40,363.13 L182.39,363.29 L183.39,363.46 L184.39,363.62 L185.39,363.78 L186.38,363.95 L187.38,364.11 L188.38,364.27 L189.38,364.43 L190.38,364.59 L191.37,364.75 L192.37,364.91 L193.37,365.07 L194.37,365.23 L195.37,365.39 L196.36,365.55 L197.36,365.71 L198.36,365.86 L199.36,366.02 L200.35,366.18 L201.35,366.33 L202.35,366.49 L203.35,366.65 L204.35,366.80 L205.34,366.96 L206.34,367.11 L207.34,367.27 L208.34,367.42 L209.34,367.57 L210.33,367.73 L211.33,367.88 L212.33,368.04 L213.33,368.19 L214.33,368.34 L215.32,368.49 L216.32,368.65 L217.32,368.80 L218.32,368.95 L219.31,369.10 L220.31,369.25 L221.31,369.40 L222.31,369.55 L223.31,369.70 L224.30,369.85 L225.30,370.00 L226.30,370.15 L227.30,370.30 L228.30,370.45 L229.29,370.60 L230.29,370.75 L231.29,370.90 L232.29,371.04 L233.29,371.19 L234.28,371.34 L235.28,371.49 L236.28,371.64 L237.28,371.78 L238.27,371.93 L239.27,372.08 L240.27,372.22 L241.27,372.37 L242.27,372.52 L243.26,372.66 L244.26,372.81 L245.26,372.95 L246.26,373.10 L247.26,373.24 L248.25,373.39 L249.25,373.54 L250.25,373.68 L251.25,373.82 L252.25,373.97 L253.24,374.11 L254.24,374.26 L255.24,374.40 L256.24,374.55 L257.23,374.69 L258.23,374.83 L259.23,374.98 L260.23,375.12 L261.23,375.26 L262.22,375.41 L263.22,375.55 L264.22,375.69 L265.22,375.83 L266.22,375.98 L267.21,376.12 L268.21,376.26 L269.21,376.40 L270.21,376.54 L271.20,376.69 L272.20,376.83 L273.20,376.97 L274.20,377.11 L275.20,377.25 L276.19,377.39 L277.19,377.53 L278.19,377.67 L279.19,377.81 L280.19,377.95 L281.18,378.09 L282.18,378.23 L283.18,378.37 L284.18,378.51 L285.18,378.65 L286.17,378.79 L287.17,378.93 L288.17,379.07 L289.17,379.21 L290.16,379.35 L291.16,379.49 L292.16,379.63 L293.16,379.77 L294.16,379.91 L295.15,380.05 L296.15,380.19 L297.15,380.32 L298.15,380.46 L299.15,380.60 L300.14,380.74 L301.14,380.88 L302.14,381.02 L303.14,381.15 L304.14,381.29 L305.13,381.43 L306.13,381.57 L307.13,381.70 L308.13,381.84 L309.12,381.98 L310.12,382.12 L311.12,382.25 L312.12,382.39 L313.12,382.53 L314.11,382.67 L315.11,382.80 L316.11,382.94 L317.11,383.08 L318.11,383.21 L319.10,383.35 L320.10,383.49 L321.10,383.62 L322.10,383.76 L323.10,383.89 L324.09,384.03 L325.09,384.17 L326.09,384.30 L327.09,384.44 L328.08,384.57 L329.08,384.71 L330.08,384.84 L331.08,384.98 L332.08,385.12 L333.07,385.25 L334.07,385.39 L335.07,385.52 L336.07,385.66 L337.07,385.79 L338.06,385.93 L339.06,386.06 L340.06,386.20 L341.06,386.33 L342.05,386.47 L343.05,386.60 L344.05,386.74 L345.05,386.87 L346.05,387.00 L347.04,387.14 L348.04,387.27 L349.04,387.41 L350.04,387.54 L351.04,387.68 L352.03,387.81 L353.03,387.94 L354.03,388.08 L355.03,388.21 L356.03,388.34 L357.02,388.48 L358.02,388.61 L359.02,388.75 L360.02,388.88 L361.01,389.01 L362.01,389.15 L363.01,389.28 L364.01,389.41 L365.01,389.55 L366.00,389.68 L367.00,389.81 L368.00,389.95" fill="none" stroke="#ff0000" stroke-width="1.45" stroke-dasharray="5.6 1.4 2.8 1.3" stroke-linejoin="round"/>
<path d="M84.60,308.69 L85.60,309.13 L86.59,309.55 L87.59,309.95 L88.59,310.33 L89.58,310.70 L90.58,311.05 L91.58,311.39 L92.57,311.71 L93.57,312.02 L94.56,312.32 L95.56,312.62 L96.56,312.90 L97.55,313.17 L98.55,313.44 L99.55,313.69 L100.54,313.94 L101.54,314.19 L102.54,314.42 L103.53,314.65 L104.53,314.88 L105.53,315.10 L106.52,315.31 L107.52,315.52 L108.52,315.73 L109.51,315.93 L110.51,316.12 L111.50,316.31 L112.50,316.50 L113.50,316.69 L114.49,316.87 L115.49,317.04 L116.49,317.22 L117.48,317.39 L118.48,317.56 L119.48,317.72 L120.47,317.88 L121.47,318.04 L122.47,318.20 L123.46,318.35 L124.46,318.51 L125.46,318.66 L126.45,318.80 L127.45,318.95 L128.45,319.09 L129.44,319.23 L130.44,319.37 L131.43,319.51 L132.43,319.64 L133.43,319.78 L134.42,319.91 L135.42,320.04 L136.42,320.17 L137.41,320.29 L138.41,320.42 L139.41,320.54 L140.40,320.66 L141.40,320.78 L142.40,320.90 L143.39,321.02 L144.39,321.14 L145.39,321.25 L146.38,321.37 L147.38,321.48 L148.37,321.59 L149.37,321.70 L150.37,321.81 L151.36,321.92 L152.36,322.03 L153.36,322.13 L154.35,322.24 L155.35,322.34 L156.35,322.44 L157.34,322.55 L158.34,322.65 L159.34,322.75 L160.33,322.85 L161.33,322.94 L162.33,323.04 L163.32,323.14 L164.32,323.23 L165.31,323.33 L166.31,323.42 L167.31,323.52 L168.30,323.61 L169.30,323.70 L170.30,323.79 L171.29,323.88 L172.29,323.97 L173.29,324.06 L174.28,324.15 L175.28,324.24 L176.28,324.32 L177.27,324.41 L178.27,324.50 L179.27,324.58 L180.26,324.67 L181.26,324.75 L182.25,324.83 L183.25,324.92 L184.25,325.00 L185.24,325.08 L186.24,325.16 L187.24,325.24 L188.23,325.32 L189.23,325.40 L190.23,325.48 L191.22,325.56 L192.22,325.64 L193.22,325.71 L194.21,325.79 L195.21,325.87 L196.21,325.94 L197.20,326.02 L198.20,326.09 L199.20,326.17 L200.19,326.24 L201.19,326.31 L202.18,326.39 L203.18,326.46 L204.18,326.53 L205.17,326.60 L206.17,326.68 L207.17,326.75 L208.16,326.82 L209.16,326.89 L210.16,326.96 L211.15,327.03 L212.15,327.10 L213.15,327.17 L214.14,327.24 L215.14,327.30 L216.14,327.37 L217.13,327.44 L218.13,327.51 L219.12,327.57 L220.12,327.64 L221.12,327.71 L222.11,327.77 L223.11,327.84 L224.11,327.90 L225.10,327.97 L226.10,328.03 L227.10,328.10 L228.09,328.16 L229.09,328.22 L230.09,328.29 L231.08,328.35 L232.08,328.41 L233.08,328.47 L234.07,328.54 L235.07,328.60 L236.06,328.66 L237.06,328.72 L238.06,328.78 L239.05,328.84 L240.05,328.90 L241.05,328.96 L242.04,329.02 L243.04,329.08 L244.04,329.14 L245.03,329.20 L246.03,329.26 L247.03,329.32 L248.02,329.38 L249.02,329.44 L250.02,329.50 L251.01,329.55 L252.01,329.61 L253.00,329.67 L254.00,329.73 L255.00,329.78 L255.99,329.84 L256.99,329.90 L257.99,329.95 L258.98,330.01 L259.98,330.07 L260.98,330.12 L261.97,330.18 L262.97,330.23 L263.97,330.29 L264.96,330.34 L265.96,330.40 L266.96,330.45 L267.95,330.51 L268.95,330.56 L269.95,330.61 L270.94,330.67 L271.94,330.72 L272.93,330.77 L273.93,330.83 L274.93,330.88 L275.92,330.93 L276.92,330.99 L277.92,331.04 L278.91,331.09 L279.91,331.14 L280.91,331.19 L281.90,331.25 L282.90,331.30 L283.90,331.35 L284.89,331.40 L285.89,331.45 L286.89,331.50 L287.88,331.55 L288.88,331.60 L289.87,331.65 L290.87,331.71 L291.87,331.76 L292.86,331.81 L293.86,331.86 L294.86,331.91 L295.85,331.95 L296.85,332.00 L297.85,332.05 L298.84,332.10 L299.84,332.15 L300.84,332.20 L301.83,332.25 L302.83,332.30 L303.83,332.35 L304.82,332.39 L305.82,332.44 L306.81,332.49 L307.81,332.54 L308.81,332.59 L309.80,332.63 L310.80,332.68 L311.80,332.73 L312.79,332.78 L313.79,332.82 L314.79,332.87 L315.78,332.92 L316.78,332.96 L317.78,333.01 L318.77,333.06 L319.77,333.10 L320.77,333.15 L321.76,333.20 L322.76,333.24 L323.75,333.29 L324.75,333.33 L325.75,333.38 L326.74,333.42 L327.74,333.47 L328.74,333.51 L329.73,333.56 L330.73,333.60 L331.73,333.65 L332.72,333.69 L333.72,333.74 L334.72,333.78 L335.71,333.83 L336.71,333.87 L337.71,333.92 L338.70,333.96 L339.70,334.01 L340.70,334.05 L341.69,334.09 L342.69,334.14 L343.68,334.18 L344.68,334.22 L345.68,334.27 L346.67,334.31 L347.67,334.35 L348.67,334.40 L349.66,334.44 L350.66,334.48 L351.66,334.53 L352.65,334.57 L353.65,334.61 L354.65,334.65 L355.64,334.70 L356.64,334.74 L357.64,334.78 L358.63,334.82 L359.63,334.87 L360.62,334.91 L361.62,334.95 L362.62,334.99 L363.61,335.03 L364.61,335.08 L365.61,335.12 L366.60,335.16 L367.60,335.20" fill="none" stroke="#ffbf00" stroke-width="1.45" stroke-dasharray="4.2 1.8" stroke-linejoin="round"/>
<path d="M84.40,297.34 L85.29,297.56 L85.82,297.98 L86.51,298.32 L87.19,298.61 L87.87,298.89 L88.53,299.14 L89.19,299.39 L89.84,299.64 L90.48,299.88 L91.11,300.11 L91.73,300.35 L92.34,300.58 L92.94,300.81 L93.53,301.04 L94.12,301.27 L94.70,301.50 L95.40,301.79 L96.10,302.07 L96.78,302.36 L97.45,302.64 L98.11,302.93 L98.75,303.21 L99.38,303.50 L100.00,303.78 L100.61,304.06 L101.20,304.35 L101.78,304.63 L102.35,304.91 L102.91,305.19 L103.46,305.47 L103.99,305.75 L104.52,306.03 L105.13,306.36 L105.73,306.70 L106.31,307.03 L106.87,307.36 L107.42,307.69 L107.95,308.02 L108.47,308.34 L108.98,308.67 L109.47,308.99 L110.02,309.37 L110.55,309.74 L111.07,310.12 L111.56,310.49 L112.04,310.86 L112.50,311.22 L112.94,311.59 L113.43,312.01 L113.89,312.43 L114.33,312.84 L114.75,313.26 L115.15,313.67 L115.58,314.14 L115.98,314.60 L116.35,315.07 L116.71,315.54 L117.04,316.01 L117.38,316.54 L117.70,317.07 L117.99,317.62 L118.27,318.17 L118.52,318.73 L118.76,319.30 L118.97,319.89 L119.17,320.50 L119.34,321.13 L119.50,321.79 L119.64,322.47 L119.77,323.19 L119.88,323.96 L119.97,324.68 L120.05,325.46 L120.12,326.28 L120.17,327.07 L120.22,327.93 L120.25,328.73 L120.28,329.59 L120.30,354.60" fill="none" stroke="#ee6a3a" stroke-width="1.9" stroke-linejoin="round"/>
<path d="M84.40,292.50 L85.00,292.75 L85.60,293.24 L86.19,293.65 L86.78,294.01 L87.37,294.34 L87.95,294.67 L88.52,294.98 L89.10,295.28 L89.67,295.57 L90.23,295.86 L90.80,296.14 L91.35,296.41 L91.91,296.68 L92.46,296.95 L93.00,297.21 L93.82,297.59 L94.62,297.96 L95.41,298.32 L96.20,298.67 L96.98,299.02 L97.75,299.35 L98.51,299.68 L99.26,300.00 L100.01,300.32 L100.75,300.63 L101.47,300.93 L102.20,301.23 L102.91,301.52 L103.61,301.81 L104.31,302.08 L105.00,302.36 L105.68,302.63 L106.35,302.89 L107.02,303.15 L107.67,303.41 L108.32,303.66 L108.96,303.91 L109.60,304.15 L110.23,304.39 L110.84,304.62 L111.46,304.85 L112.06,305.08 L112.66,305.30 L113.25,305.52 L114.02,305.80 L114.78,306.09 L115.53,306.36 L116.27,306.63 L116.99,306.90 L117.70,307.16 L118.40,307.41 L119.09,307.66 L119.77,307.91 L120.43,308.15 L121.08,308.39 L121.72,308.62 L122.35,308.85 L122.96,309.08 L123.57,309.30 L124.16,309.52 L124.89,309.79 L125.59,310.06 L126.29,310.32 L126.96,310.58 L127.62,310.83 L128.26,311.08 L128.88,311.32 L129.49,311.57 L130.08,311.81 L130.66,312.04 L131.33,312.33 L131.98,312.60 L132.61,312.88 L133.22,313.15 L133.81,313.42 L134.37,313.68 L134.92,313.95 L135.53,314.26 L136.12,314.56 L136.68,314.87 L137.21,315.17 L137.72,315.47 L138.28,315.82 L138.80,316.17 L139.29,316.52 L139.76,316.87 L140.25,317.28 L140.70,317.68 L141.13,318.10 L141.52,318.52 L141.92,319.00 L142.28,319.49 L142.62,320.00 L142.92,320.53 L143.19,321.09 L143.44,321.66 L143.65,322.27 L143.84,322.91 L144.01,323.60 L144.15,324.33 L144.26,325.04 L144.36,325.80 L144.43,326.53 L144.49,327.32 L144.54,328.19 L144.58,329.01 L144.61,329.79 L144.64,330.63 L144.66,331.56 L144.67,332.41 L144.69,333.35 L144.69,334.18 L144.70,353.20" fill="none" stroke="#dc7f2a" stroke-width="1.9" stroke-linejoin="round"/>
<path d="M84.90,654.75 L85.90,655.37 L86.90,655.93 L87.89,656.45 L88.89,656.95 L89.89,657.41 L90.89,657.86 L91.89,658.29 L92.89,658.70 L93.88,659.09 L94.88,659.47 L95.88,659.85 L96.88,660.21 L97.88,660.56 L98.88,660.91 L99.87,661.25 L100.87,661.58 L101.87,661.91 L102.87,662.23 L103.87,662.54 L104.86,662.86 L105.86,663.16 L106.86,663.46 L107.86,663.76 L108.86,664.06 L109.86,664.35 L110.85,664.64 L111.85,664.93 L112.85,665.21 L113.85,665.49 L114.85,665.77 L115.85,666.04 L116.84,666.32 L117.84,666.59 L118.84,666.86 L119.84,667.13 L120.84,667.39 L121.83,667.66 L122.83,667.92 L123.83,668.18 L124.83,668.44 L125.83,668.70 L126.83,668.96 L127.82,669.21 L128.82,669.47 L129.82,669.72 L130.82,669.97 L131.82,670.22 L132.82,670.47 L133.81,670.72 L134.81,670.97 L135.81,671.21 L136.81,671.46 L137.81,671.70 L138.80,671.95 L139.80,672.19 L140.80,672.43 L141.80,672.67 L142.80,672.92 L143.80,673.16 L144.79,673.39 L145.79,673.63 L146.79,673.87 L147.79,674.11 L148.79,674.34 L149.79,674.58 L150.78,674.81 L151.78,675.05 L152.78,675.28 L153.78,675.52 L154.78,675.75 L155.78,675.98 L156.77,676.21 L157.77,676.44 L158.77,676.68 L159.77,676.91 L160.77,677.14 L161.76,677.37 L162.76,677.59 L163.76,677.82 L164.76,678.05 L165.76,678.28 L166.76,678.51 L167.75,678.73 L168.75,678.96 L169.75,679.18 L170.75,679.41 L171.75,679.64 L172.75,679.86 L173.74,680.09 L174.74,680.31 L175.74,680.53 L176.74,680.76 L177.74,680.98 L178.73,681.20 L179.73,681.43 L180.73,681.65 L181.73,681.87 L182.73,682.09 L183.73,682.31 L184.72,682.53 L185.72,682.76 L186.72,682.98 L187.72,683.20 L188.72,683.42 L189.72,683.64 L190.71,683.86 L191.71,684.07 L192.71,684.29 L193.71,684.51 L194.71,684.73 L195.70,684.95 L196.70,685.17 L197.70,685.39 L198.70,685.60 L199.70,685.82 L200.70,686.04 L201.69,686.26 L202.69,686.47 L203.69,686.69 L204.69,686.91 L205.69,687.12 L206.69,687.34 L207.68,687.55 L208.68,687.77 L209.68,687.98 L210.68,688.20 L211.68,688.41 L212.67,688.63 L213.67,688.84 L214.67,689.06 L215.67,689.27 L216.67,689.49 L217.67,689.70 L218.66,689.92 L219.66,690.13 L220.66,690.34 L221.66,690.56 L222.66,690.77 L223.66,690.98 L224.65,691.20 L225.65,691.41 L226.65,691.62 L227.65,691.83 L228.65,692.05 L229.64,692.26 L230.64,692.47 L231.64,692.68 L232.64,692.89 L233.64,693.11 L234.64,693.32 L235.63,693.53 L236.63,693.74 L237.63,693.95 L238.63,694.16 L239.63,694.37 L240.63,694.59 L241.62,694.80 L242.62,695.01 L243.62,695.22 L244.62,695.43 L245.62,695.64 L246.61,695.85 L247.61,696.06 L248.61,696.27 L249.61,696.48 L250.61,696.69 L251.61,696.90 L252.60,697.11 L253.60,697.32 L254.60,697.53 L255.60,697.73 L256.60,697.94 L257.60,698.15 L258.59,698.36 L259.59,698.57 L260.59,698.78 L261.59,698.99 L262.59,699.20 L263.58,699.40 L264.58,699.61 L265.58,699.82 L266.58,700.03 L267.58,700.24 L268.58,700.45 L269.57,700.65 L270.57,700.86 L271.57,701.07 L272.57,701.28 L273.57,701.48 L274.57,701.69 L275.56,701.90 L276.56,702.11 L277.56,702.31 L278.56,702.52 L279.56,702.73 L280.55,702.93 L281.55,703.14 L282.55,703.35 L283.55,703.56 L284.55,703.76 L285.55,703.97 L286.54,704.18 L287.54,704.38 L288.54,704.59 L289.54,704.79 L290.54,705.00 L291.54,705.21 L292.53,705.41 L293.53,705.62 L294.53,705.82 L295.53,706.03 L296.53,706.24 L297.52,706.44 L298.52,706.65 L299.52,706.85 L300.52,707.06 L301.52,707.27 L302.52,707.47 L303.51,707.68 L304.51,707.88 L305.51,708.09 L306.51,708.29 L307.51,708.50 L308.51,708.70 L309.50,708.91 L310.50,709.11 L311.50,709.32 L312.50,709.52 L313.50,709.73 L314.50,709.93 L315.49,710.14 L316.49,710.34 L317.49,710.55 L318.49,710.75 L319.49,710.95 L320.48,711.16 L321.48,711.36 L322.48,711.57 L323.48,711.77 L324.48,711.98 L325.48,712.18 L326.47,712.38 L327.47,712.59 L328.47,712.79 L329.47,713.00 L330.47,713.20 L331.47,713.40 L332.46,713.61 L333.46,713.81 L334.46,714.01 L335.46,714.22 L336.46,714.42 L337.45,714.63 L338.45,714.83 L339.45,715.03 L340.45,715.24 L341.45,715.44 L342.45,715.64 L343.44,715.85 L344.44,716.05 L345.44,716.25 L346.44,716.46 L347.44,716.66 L348.44,716.86 L349.43,717.06 L350.43,717.27 L351.43,717.47 L352.43,717.67 L353.43,717.88 L354.42,718.08 L355.42,718.28 L356.42,718.48 L357.42,718.69 L358.42,718.89 L359.42,719.09 L360.41,719.29 L361.41,719.50 L362.41,719.70 L363.41,719.90 L364.41,720.10 L365.41,720.31 L366.40,720.51 L367.40,720.71 L368.40,720.91" fill="none" stroke="#5e81b5" stroke-width="1.9" stroke-linejoin="round"/>
<path d="M85.20,601.48 L86.06,601.93 L86.91,602.30 L87.76,602.63 L88.61,602.92 L89.46,603.19 L90.30,603.44 L91.14,603.67 L91.98,603.89 L92.81,604.10 L93.64,604.31 L94.47,604.51 L95.29,604.70 L96.12,604.88 L96.94,605.07 L97.76,605.24 L98.57,605.42 L99.38,605.59 L100.19,605.75 L101.00,605.92 L101.80,606.08 L102.60,606.24 L103.40,606.39 L104.19,606.55 L104.99,606.70 L105.77,606.85 L106.56,607.00 L107.35,607.14 L108.13,607.29 L108.91,607.43 L109.68,607.57 L110.45,607.72 L111.23,607.85 L111.99,607.99 L112.76,608.13 L113.52,608.27 L114.28,608.40 L115.04,608.53 L115.79,608.67 L116.54,608.80 L117.29,608.93 L118.04,609.06 L118.78,609.19 L119.52,609.31 L120.26,609.44 L121.00,609.57 L121.73,609.69 L122.46,609.81 L123.19,609.94 L123.91,610.06 L124.63,610.18 L125.35,610.30 L126.07,610.42 L126.78,610.54 L127.50,610.66 L128.21,610.78 L128.91,610.90 L129.62,611.01 L130.32,611.13 L131.02,611.24 L131.71,611.36 L132.41,611.47 L133.10,611.59 L133.79,611.70 L135.16,611.92 L136.52,612.14 L137.86,612.36 L139.20,612.58 L140.53,612.79 L141.85,613.01 L143.16,613.22 L144.46,613.42 L145.75,613.63 L147.03,613.83 L148.29,614.04 L149.55,614.24 L150.80,614.43 L152.04,614.63 L153.27,614.82 L154.49,615.02 L155.70,615.21 L156.90,615.40 L158.09,615.58 L159.28,615.77 L160.45,615.95 L161.61,616.13 L162.77,616.31 L163.91,616.49 L165.04,616.67 L166.17,616.84 L167.29,617.02 L168.39,617.19 L169.49,617.36 L170.58,617.53 L171.66,617.70 L172.73,617.86 L173.79,618.03 L174.84,618.19 L175.89,618.35 L176.92,618.51 L177.95,618.67 L178.96,618.83 L179.97,618.99 L180.97,619.14 L181.96,619.29 L182.94,619.45 L183.92,619.60 L184.88,619.75 L185.84,619.90 L186.78,620.04 L187.72,620.19 L188.65,620.33 L189.58,620.48 L190.49,620.62 L191.39,620.76 L192.29,620.90 L193.18,621.04 L194.06,621.18 L194.93,621.31 L195.80,621.45 L196.65,621.59 L197.50,621.72 L198.34,621.85 L199.17,621.98 L200.00,622.12 L200.81,622.25 L201.62,622.38 L202.42,622.50 L203.21,622.63 L204.00,622.76 L204.78,622.88 L205.55,623.01 L206.31,623.13 L207.06,623.26 L207.81,623.38 L208.55,623.50 L209.28,623.62 L210.00,623.74 L210.72,623.86 L211.43,623.98 L212.13,624.10 L212.82,624.22 L213.51,624.34 L214.53,624.51 L215.53,624.69 L216.51,624.86 L217.48,625.03 L218.44,625.20 L219.38,625.38 L220.30,625.54 L221.20,625.71 L222.10,625.88 L222.97,626.05 L223.83,626.21 L224.68,626.38 L225.51,626.55 L226.33,626.71 L227.13,626.88 L227.92,627.04 L228.70,627.21 L229.46,627.37 L230.20,627.53 L230.94,627.70 L231.66,627.86 L232.36,628.02 L233.05,628.19 L233.73,628.35 L234.40,628.52 L235.05,628.68 L235.69,628.85 L236.52,629.07 L237.33,629.29 L238.12,629.51 L238.89,629.73 L239.63,629.96 L240.35,630.18 L241.06,630.41 L241.74,630.64 L242.40,630.87 L243.03,631.10 L243.64,631.34 L244.24,631.57 L244.81,631.81 L245.50,632.11 L246.16,632.42 L246.79,632.73 L247.40,633.04 L247.97,633.36 L248.53,633.69 L249.05,634.02 L249.55,634.36 L250.03,634.70 L250.48,635.05 L251.00,635.48 L251.48,635.93 L251.92,636.38 L252.34,636.85 L252.73,637.34 L253.09,637.84 L253.42,638.36 L253.73,638.89 L254.01,639.45 L254.27,640.03 L254.50,640.64 L254.71,641.27 L254.90,641.94 L254.90,657.30" fill="none" stroke="#52bd79" stroke-width="1.9" stroke-linejoin="round"/>
<path d="M84.60,602.24 L85.60,603.25 L86.59,604.04 L87.59,604.70 L88.59,605.26 L89.58,605.77 L90.58,606.22 L91.58,606.64 L92.57,607.03 L93.57,607.39 L94.56,607.73 L95.56,608.05 L96.56,608.35 L97.55,608.65 L98.55,608.93 L99.55,609.20 L100.54,609.46 L101.54,609.72 L102.54,609.96 L103.53,610.20 L104.53,610.44 L105.53,610.66 L106.52,610.89 L107.52,611.10 L108.52,611.32 L109.51,611.53 L110.51,611.73 L111.51,611.94 L112.50,612.14 L113.50,612.33 L114.49,612.53 L115.49,612.72 L116.49,612.90 L117.48,613.09 L118.48,613.27 L119.48,613.46 L120.47,613.63 L121.47,613.81 L122.47,613.99 L123.46,614.16 L124.46,614.33 L125.46,614.50 L126.45,614.67 L127.45,614.84 L128.45,615.01 L129.44,615.17 L130.44,615.34 L131.44,615.50 L132.43,615.66 L133.43,615.82 L134.42,615.98 L135.42,616.14 L136.42,616.30 L137.41,616.45 L138.41,616.61 L139.41,616.76 L140.40,616.91 L141.40,617.07 L142.40,617.22 L143.39,617.37 L144.39,617.52 L145.39,617.67 L146.38,617.82 L147.38,617.97 L148.38,618.12 L149.37,618.26 L150.37,618.41 L151.36,618.55 L152.36,618.70 L153.36,618.84 L154.35,618.99 L155.35,619.13 L156.35,619.27 L157.34,619.42 L158.34,619.56 L159.34,619.70 L160.33,619.84 L161.33,619.98 L162.33,620.12 L163.32,620.26 L164.32,620.40 L165.32,620.54 L166.31,620.68 L167.31,620.82 L168.31,620.95 L169.30,621.09 L170.30,621.23 L171.29,621.36 L172.29,621.50 L173.29,621.63 L174.28,621.77 L175.28,621.90 L176.28,622.04 L177.27,622.17 L178.27,622.31 L179.27,622.44 L180.26,622.58 L181.26,622.71 L182.26,622.84 L183.25,622.97 L184.25,623.11 L185.25,623.24 L186.24,623.37 L187.24,623.50 L188.24,623.63 L189.23,623.76 L190.23,623.89 L191.22,624.02 L192.22,624.16 L193.22,624.29 L194.21,624.41 L195.21,624.54 L196.21,624.67 L197.20,624.80 L198.20,624.93 L199.20,625.06 L200.19,625.19 L201.19,625.32 L202.19,625.45 L203.18,625.57 L204.18,625.70 L205.18,625.83 L206.17,625.96 L207.17,626.08 L208.16,626.21 L209.16,626.34 L210.16,626.46 L211.15,626.59 L212.15,626.72 L213.15,626.84 L214.14,626.97 L215.14,627.09 L216.14,627.22 L217.13,627.34 L218.13,627.47 L219.13,627.60 L220.12,627.72 L221.12,627.85 L222.12,627.97 L223.11,628.09 L224.11,628.22 L225.11,628.34 L226.10,628.47 L227.10,628.59 L228.09,628.71 L229.09,628.84 L230.09,628.96 L231.08,629.09 L232.08,629.21 L233.08,629.33 L234.07,629.46 L235.07,629.58 L236.07,629.70 L237.06,629.82 L238.06,629.95 L239.06,630.07 L240.05,630.19 L241.05,630.31 L242.05,630.44 L243.04,630.56 L244.04,630.68 L245.04,630.80 L246.03,630.92 L247.03,631.04 L248.02,631.17 L249.02,631.29 L250.02,631.41 L251.01,631.53 L252.01,631.65 L253.01,631.77 L254.00,631.89 L255.00,632.01 L256.00,632.13 L256.99,632.25 L257.99,632.38 L258.99,632.50 L259.98,632.62 L260.98,632.74 L261.98,632.86 L262.97,632.98 L263.97,633.10 L264.96,633.22 L265.96,633.34 L266.96,633.46 L267.95,633.58 L268.95,633.69 L269.95,633.81 L270.94,633.93 L271.94,634.05 L272.94,634.17 L273.93,634.29 L274.93,634.41 L275.93,634.53 L276.92,634.65 L277.92,634.77 L278.92,634.89 L279.91,635.00 L280.91,635.12 L281.91,635.24 L282.90,635.36 L283.90,635.48 L284.89,635.60 L285.89,635.72 L286.89,635.83 L287.88,635.95 L288.88,636.07 L289.88,636.19 L290.87,636.31 L291.87,636.42 L292.87,636.54 L293.86,636.66 L294.86,636.78 L295.86,636.89 L296.85,637.01 L297.85,637.13 L298.85,637.25 L299.84,637.36 L300.84,637.48 L301.84,637.60 L302.83,637.72 L303.83,637.83 L304.82,637.95 L305.82,638.07 L306.82,638.18 L307.81,638.30 L308.81,638.42 L309.81,638.53 L310.80,638.65 L311.80,638.77 L312.80,638.88 L313.79,639.00 L314.79,639.12 L315.79,639.23 L316.78,639.35 L317.78,639.47 L318.78,639.58 L319.77,639.70 L320.77,639.82 L321.76,639.93 L322.76,640.05 L323.76,640.16 L324.75,640.28 L325.75,640.40 L326.75,640.51 L327.74,640.63 L328.74,640.74 L329.74,640.86 L330.73,640.97 L331.73,641.09 L332.73,641.21 L333.72,641.32 L334.72,641.44 L335.72,641.55 L336.71,641.67 L337.71,641.78 L338.71,641.90 L339.70,642.01 L340.70,642.13 L341.69,642.24 L342.69,642.36 L343.69,642.47 L344.68,642.59 L345.68,642.71 L346.68,642.82 L347.67,642.94 L348.67,643.05 L349.67,643.17 L350.66,643.28 L351.66,643.39 L352.66,643.51 L353.65,643.62 L354.65,643.74 L355.65,643.85 L356.64,643.97 L357.64,644.08 L358.64,644.20 L359.63,644.31 L360.63,644.43 L361.62,644.54 L362.62,644.66 L363.62,644.77 L364.61,644.88 L365.61,645.00 L366.61,645.11 L367.60,645.23 L368.60,645.34" fill="none" stroke="#ff0000" stroke-width="1.45" stroke-dasharray="5.6 1.4 2.8 1.3" stroke-linejoin="round"/>
<path d="M84.90,570.07 L85.90,570.87 L86.90,571.41 L87.90,571.82 L88.90,572.15 L89.89,572.43 L90.89,572.68 L91.89,572.90 L92.89,573.10 L93.89,573.28 L94.89,573.45 L95.89,573.61 L96.89,573.76 L97.89,573.90 L98.89,574.03 L99.88,574.15 L100.88,574.28 L101.88,574.39 L102.88,574.50 L103.88,574.61 L104.88,574.72 L105.88,574.82 L106.88,574.92 L107.88,575.01 L108.87,575.10 L109.87,575.20 L110.87,575.28 L111.87,575.37 L112.87,575.46 L113.87,575.54 L114.87,575.62 L115.87,575.70 L116.87,575.78 L117.87,575.86 L118.86,575.93 L119.86,576.01 L120.86,576.08 L121.86,576.15 L122.86,576.23 L123.86,576.30 L124.86,576.37 L125.86,576.44 L126.86,576.51 L127.85,576.57 L128.85,576.64 L129.85,576.71 L130.85,576.77 L131.85,576.84 L132.85,576.90 L133.85,576.96 L134.85,577.03 L135.85,577.09 L136.85,577.15 L137.84,577.21 L138.84,577.27 L139.84,577.33 L140.84,577.39 L141.84,577.45 L142.84,577.51 L143.84,577.57 L144.84,577.63 L145.84,577.69 L146.83,577.74 L147.83,577.80 L148.83,577.86 L149.83,577.91 L150.83,577.97 L151.83,578.02 L152.83,578.08 L153.83,578.14 L154.83,578.19 L155.82,578.24 L156.82,578.30 L157.82,578.35 L158.82,578.41 L159.82,578.46 L160.82,578.51 L161.82,578.57 L162.82,578.62 L163.82,578.67 L164.82,578.72 L165.81,578.77 L166.81,578.83 L167.81,578.88 L168.81,578.93 L169.81,578.98 L170.81,579.03 L171.81,579.08 L172.81,579.13 L173.81,579.18 L174.80,579.23 L175.80,579.28 L176.80,579.33 L177.80,579.38 L178.80,579.43 L179.80,579.48 L180.80,579.53 L181.80,579.58 L182.80,579.63 L183.80,579.68 L184.79,579.73 L185.79,579.77 L186.79,579.82 L187.79,579.87 L188.79,579.92 L189.79,579.97 L190.79,580.01 L191.79,580.06 L192.79,580.11 L193.78,580.16 L194.78,580.20 L195.78,580.25 L196.78,580.30 L197.78,580.34 L198.78,580.39 L199.78,580.44 L200.78,580.48 L201.78,580.53 L202.78,580.58 L203.77,580.62 L204.77,580.67 L205.77,580.72 L206.77,580.76 L207.77,580.81 L208.77,580.85 L209.77,580.90 L210.77,580.94 L211.77,580.99 L212.76,581.04 L213.76,581.08 L214.76,581.13 L215.76,581.17 L216.76,581.22 L217.76,581.26 L218.76,581.31 L219.76,581.35 L220.76,581.40 L221.76,581.44 L222.75,581.49 L223.75,581.53 L224.75,581.57 L225.75,581.62 L226.75,581.66 L227.75,581.71 L228.75,581.75 L229.75,581.79 L230.75,581.84 L231.74,581.88 L232.74,581.93 L233.74,581.97 L234.74,582.01 L235.74,582.06 L236.74,582.10 L237.74,582.14 L238.74,582.19 L239.74,582.23 L240.74,582.28 L241.73,582.32 L242.73,582.36 L243.73,582.40 L244.73,582.45 L245.73,582.49 L246.73,582.53 L247.73,582.58 L248.73,582.62 L249.73,582.66 L250.72,582.71 L251.72,582.75 L252.72,582.79 L253.72,582.83 L254.72,582.88 L255.72,582.92 L256.72,582.96 L257.72,583.00 L258.72,583.05 L259.72,583.09 L260.71,583.13 L261.71,583.17 L262.71,583.21 L263.71,583.26 L264.71,583.30 L265.71,583.34 L266.71,583.38 L267.71,583.42 L268.71,583.47 L269.70,583.51 L270.70,583.55 L271.70,583.59 L272.70,583.63 L273.70,583.68 L274.70,583.72 L275.70,583.76 L276.70,583.80 L277.70,583.84 L278.70,583.88 L279.69,583.93 L280.69,583.97 L281.69,584.01 L282.69,584.05 L283.69,584.09 L284.69,584.13 L285.69,584.17 L286.69,584.21 L287.69,584.26 L288.68,584.30 L289.68,584.34 L290.68,584.38 L291.68,584.42 L292.68,584.46 L293.68,584.50 L294.68,584.54 L295.68,584.58 L296.68,584.62 L297.67,584.67 L298.67,584.71 L299.67,584.75 L300.67,584.79 L301.67,584.83 L302.67,584.87 L303.67,584.91 L304.67,584.95 L305.67,584.99 L306.67,585.03 L307.66,585.07 L308.66,585.11 L309.66,585.15 L310.66,585.19 L311.66,585.23 L312.66,585.27 L313.66,585.31 L314.66,585.35 L315.66,585.40 L316.65,585.44 L317.65,585.48 L318.65,585.52 L319.65,585.56 L320.65,585.60 L321.65,585.64 L322.65,585.68 L323.65,585.72 L324.65,585.76 L325.65,585.80 L326.64,585.84 L327.64,585.88 L328.64,585.92 L329.64,585.96 L330.64,586.00 L331.64,586.04 L332.64,586.08 L333.64,586.12 L334.64,586.16 L335.63,586.20 L336.63,586.24 L337.63,586.28 L338.63,586.31 L339.63,586.35 L340.63,586.39 L341.63,586.43 L342.63,586.47 L343.63,586.51 L344.63,586.55 L345.62,586.59 L346.62,586.63 L347.62,586.67 L348.62,586.71 L349.62,586.75 L350.62,586.79 L351.62,586.83 L352.62,586.87 L353.62,586.91 L354.61,586.95 L355.61,586.99 L356.61,587.03 L357.61,587.07 L358.61,587.10 L359.61,587.14 L360.61,587.18 L361.61,587.22 L362.61,587.26 L363.61,587.30 L364.60,587.34 L365.60,587.38 L366.60,587.42 L367.60,587.46 L368.60,587.50" fill="none" stroke="#ffbf00" stroke-width="1.45" stroke-dasharray="4.2 1.8" stroke-linejoin="round"/>
</svg>
</body></html>
